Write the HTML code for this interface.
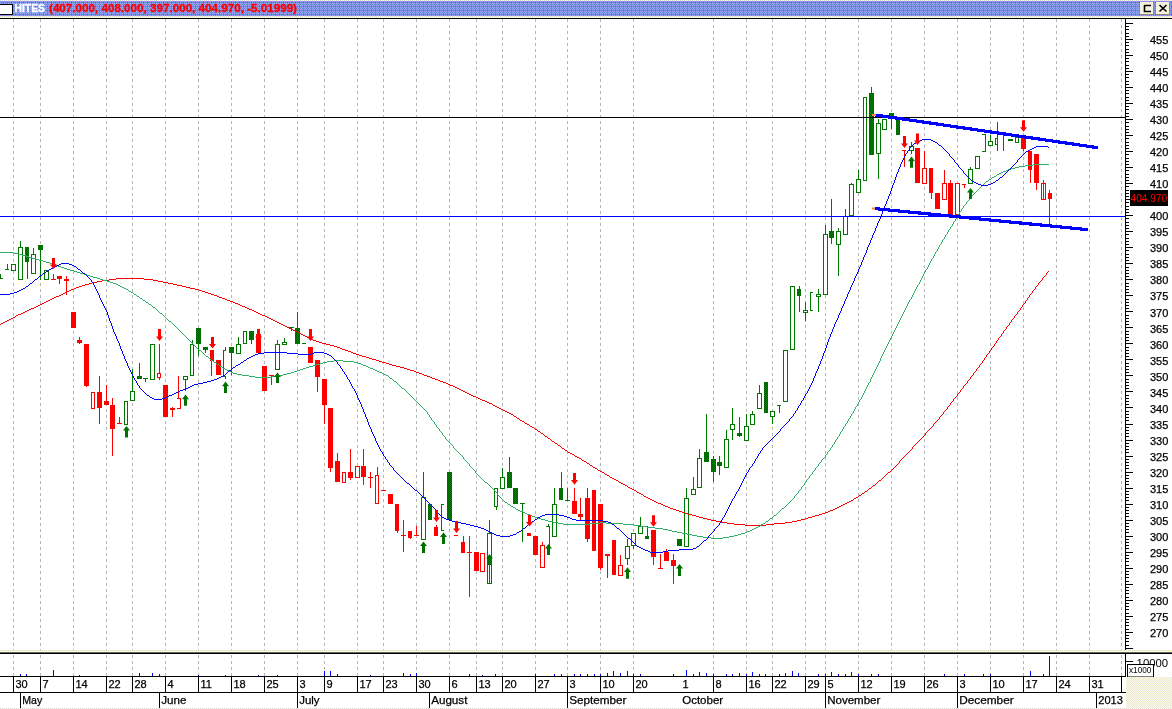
<!DOCTYPE html>
<html><head><meta charset="utf-8"><title>HITES</title>
<style>html,body{margin:0;padding:0;background:#fff;overflow:hidden}svg{display:block}</style>
</head><body>
<svg width="1172" height="709" viewBox="0 0 1172 709" font-family="'Liberation Sans', sans-serif">
<defs>
<pattern id="tb" width="4" height="4" patternUnits="userSpaceOnUse"><rect width="4" height="4" fill="#6692d4"/><rect x="0" y="1" width="1" height="1" fill="#a4a0ff"/><rect x="1" y="0" width="1" height="1" fill="#a4a0ff"/><rect x="2" y="3" width="1" height="1" fill="#a4a0ff"/><rect x="2" y="1" width="1" height="1" fill="#a4a0ff"/><rect x="0" y="3" width="1" height="1" fill="#a4a0ff"/><rect x="3" y="2" width="1" height="1" fill="#6858d0"/></pattern>
<pattern id="cr" width="2" height="2" patternUnits="userSpaceOnUse"><rect width="2" height="2" fill="#ffffc8"/><rect width="1" height="1" fill="#d8d8d0"/></pattern>
<pattern id="sb" width="2" height="2" patternUnits="userSpaceOnUse"><rect width="2" height="2" fill="#fffde0"/><rect width="1" height="1" fill="#e6e6de"/><rect x="1" y="1" width="1" height="1" fill="#e6e6de"/></pattern>
<pattern id="gd" width="2" height="2" patternUnits="userSpaceOnUse"><rect width="2" height="2" fill="#008400"/><rect width="1" height="1" fill="#005c00"/><rect x="1" y="1" width="1" height="1" fill="#005c00"/></pattern>
</defs>
<rect width="1172" height="709" fill="#fff"/>
<g stroke="#b6b6b6" stroke-width="1" stroke-dasharray="3 3" shape-rendering="crispEdges">
<line x1="13.5" y1="19" x2="13.5" y2="650"/>
<line x1="13.5" y1="655" x2="13.5" y2="676"/>
<line x1="40.5" y1="19" x2="40.5" y2="650"/>
<line x1="40.5" y1="655" x2="40.5" y2="676"/>
<line x1="73.5" y1="19" x2="73.5" y2="650"/>
<line x1="73.5" y1="655" x2="73.5" y2="676"/>
<line x1="106.5" y1="19" x2="106.5" y2="650"/>
<line x1="106.5" y1="655" x2="106.5" y2="676"/>
<line x1="132.5" y1="19" x2="132.5" y2="650"/>
<line x1="132.5" y1="655" x2="132.5" y2="676"/>
<line x1="165.5" y1="19" x2="165.5" y2="650"/>
<line x1="165.5" y1="655" x2="165.5" y2="676"/>
<line x1="198.5" y1="19" x2="198.5" y2="650"/>
<line x1="198.5" y1="655" x2="198.5" y2="676"/>
<line x1="231.5" y1="19" x2="231.5" y2="650"/>
<line x1="231.5" y1="655" x2="231.5" y2="676"/>
<line x1="264.5" y1="19" x2="264.5" y2="650"/>
<line x1="264.5" y1="655" x2="264.5" y2="676"/>
<line x1="297.5" y1="19" x2="297.5" y2="650"/>
<line x1="297.5" y1="655" x2="297.5" y2="676"/>
<line x1="324.5" y1="19" x2="324.5" y2="650"/>
<line x1="324.5" y1="655" x2="324.5" y2="676"/>
<line x1="357.5" y1="19" x2="357.5" y2="650"/>
<line x1="357.5" y1="655" x2="357.5" y2="676"/>
<line x1="383.5" y1="19" x2="383.5" y2="650"/>
<line x1="383.5" y1="655" x2="383.5" y2="676"/>
<line x1="416.5" y1="19" x2="416.5" y2="650"/>
<line x1="416.5" y1="655" x2="416.5" y2="676"/>
<line x1="449.5" y1="19" x2="449.5" y2="650"/>
<line x1="449.5" y1="655" x2="449.5" y2="676"/>
<line x1="476.5" y1="19" x2="476.5" y2="650"/>
<line x1="476.5" y1="655" x2="476.5" y2="676"/>
<line x1="502.5" y1="19" x2="502.5" y2="650"/>
<line x1="502.5" y1="655" x2="502.5" y2="676"/>
<line x1="535.5" y1="19" x2="535.5" y2="650"/>
<line x1="535.5" y1="655" x2="535.5" y2="676"/>
<line x1="567.5" y1="19" x2="567.5" y2="650"/>
<line x1="567.5" y1="655" x2="567.5" y2="676"/>
<line x1="600.5" y1="19" x2="600.5" y2="650"/>
<line x1="600.5" y1="655" x2="600.5" y2="676"/>
<line x1="633.5" y1="19" x2="633.5" y2="650"/>
<line x1="633.5" y1="655" x2="633.5" y2="676"/>
<line x1="713.5" y1="19" x2="713.5" y2="650"/>
<line x1="713.5" y1="655" x2="713.5" y2="676"/>
<line x1="746.5" y1="19" x2="746.5" y2="650"/>
<line x1="746.5" y1="655" x2="746.5" y2="676"/>
<line x1="772.5" y1="19" x2="772.5" y2="650"/>
<line x1="772.5" y1="655" x2="772.5" y2="676"/>
<line x1="805.5" y1="19" x2="805.5" y2="650"/>
<line x1="805.5" y1="655" x2="805.5" y2="676"/>
<line x1="825.5" y1="19" x2="825.5" y2="650"/>
<line x1="825.5" y1="655" x2="825.5" y2="676"/>
<line x1="858.5" y1="19" x2="858.5" y2="650"/>
<line x1="858.5" y1="655" x2="858.5" y2="676"/>
<line x1="891.5" y1="19" x2="891.5" y2="650"/>
<line x1="891.5" y1="655" x2="891.5" y2="676"/>
<line x1="924.5" y1="19" x2="924.5" y2="650"/>
<line x1="924.5" y1="655" x2="924.5" y2="676"/>
<line x1="957.5" y1="19" x2="957.5" y2="650"/>
<line x1="957.5" y1="655" x2="957.5" y2="676"/>
<line x1="990.5" y1="19" x2="990.5" y2="650"/>
<line x1="990.5" y1="655" x2="990.5" y2="676"/>
<line x1="1023.5" y1="19" x2="1023.5" y2="650"/>
<line x1="1023.5" y1="655" x2="1023.5" y2="676"/>
<line x1="1056.5" y1="19" x2="1056.5" y2="650"/>
<line x1="1056.5" y1="655" x2="1056.5" y2="676"/>
<line x1="1089.5" y1="19" x2="1089.5" y2="650"/>
<line x1="1089.5" y1="655" x2="1089.5" y2="676"/>
<line x1="1121.5" y1="19" x2="1121.5" y2="650"/>
<line x1="1121.5" y1="655" x2="1121.5" y2="676"/>
</g>
<g fill="#0000ff" shape-rendering="crispEdges">
<rect x="20" y="674" width="1" height="2"/>
<rect x="26" y="674" width="1" height="2"/>
<rect x="53" y="670" width="1" height="6"/>
<rect x="79" y="675" width="1" height="1"/>
<rect x="139" y="673" width="1" height="3"/>
<rect x="152" y="673" width="1" height="3"/>
<rect x="159" y="674" width="1" height="2"/>
<rect x="198" y="675" width="1" height="1"/>
<rect x="225" y="675" width="1" height="1"/>
<rect x="258" y="675" width="1" height="1"/>
<rect x="277" y="675" width="1" height="1"/>
<rect x="324" y="671" width="1" height="5"/>
<rect x="330" y="671" width="1" height="5"/>
<rect x="337" y="674" width="1" height="2"/>
<rect x="370" y="675" width="1" height="1"/>
<rect x="403" y="673" width="1" height="3"/>
<rect x="410" y="674" width="1" height="2"/>
<rect x="416" y="673" width="1" height="3"/>
<rect x="469" y="674" width="1" height="2"/>
<rect x="482" y="675" width="1" height="1"/>
<rect x="495" y="674" width="1" height="2"/>
<rect x="535" y="674" width="1" height="2"/>
<rect x="554" y="674" width="1" height="2"/>
<rect x="561" y="674" width="1" height="2"/>
<rect x="574" y="674" width="1" height="2"/>
<rect x="580" y="674" width="1" height="2"/>
<rect x="587" y="674" width="1" height="2"/>
<rect x="594" y="674" width="1" height="2"/>
<rect x="600" y="674" width="1" height="2"/>
<rect x="607" y="673" width="1" height="3"/>
<rect x="613" y="671" width="1" height="5"/>
<rect x="620" y="673" width="1" height="3"/>
<rect x="627" y="671" width="1" height="5"/>
<rect x="633" y="674" width="1" height="2"/>
<rect x="640" y="674" width="1" height="2"/>
<rect x="673" y="674" width="1" height="2"/>
<rect x="686" y="670" width="1" height="6"/>
<rect x="693" y="674" width="1" height="2"/>
<rect x="699" y="672" width="1" height="4"/>
<rect x="706" y="673" width="1" height="3"/>
<rect x="713" y="674" width="1" height="2"/>
<rect x="726" y="674" width="1" height="2"/>
<rect x="732" y="674" width="1" height="2"/>
<rect x="739" y="673" width="1" height="3"/>
<rect x="746" y="674" width="1" height="2"/>
<rect x="752" y="672" width="1" height="4"/>
<rect x="759" y="674" width="1" height="2"/>
<rect x="765" y="674" width="1" height="2"/>
<rect x="779" y="674" width="1" height="2"/>
<rect x="785" y="673" width="1" height="3"/>
<rect x="792" y="671" width="1" height="5"/>
<rect x="798" y="673" width="1" height="3"/>
<rect x="818" y="674" width="1" height="2"/>
<rect x="825" y="674" width="1" height="2"/>
<rect x="831" y="672" width="1" height="4"/>
<rect x="838" y="674" width="1" height="2"/>
<rect x="845" y="674" width="1" height="2"/>
<rect x="851" y="672" width="1" height="4"/>
<rect x="858" y="674" width="1" height="2"/>
<rect x="871" y="674" width="1" height="2"/>
<rect x="878" y="674" width="1" height="2"/>
<rect x="944" y="674" width="1" height="2"/>
<rect x="964" y="674" width="1" height="2"/>
<rect x="983" y="674" width="1" height="2"/>
<rect x="990" y="674" width="1" height="2"/>
<rect x="1030" y="671" width="1" height="5"/>
<rect x="1043" y="674" width="1" height="2"/>
<rect x="1049" y="656" width="1" height="20"/>
</g>
<g shape-rendering="crispEdges">
<rect x="7" y="264.0" width="1" height="5.6" fill="#007800"/>
<rect x="5" y="269.1" width="4" height="1" fill="#007800"/>
<rect x="11.5" y="264.5" width="4" height="5.6" fill="#fff" stroke="#007800" stroke-width="1"/>
<rect x="20" y="241.0" width="1" height="6.0" fill="#007800"/>
<rect x="18.5" y="247.5" width="4" height="31.5" fill="#fff" stroke="#007800" stroke-width="1"/>
<rect x="27" y="262.4" width="1" height="16.2" fill="#007800"/>
<rect x="25" y="247.0" width="4" height="15.4" fill="url(#gd)"/>
<rect x="33" y="248.4" width="1" height="5.1" fill="#007800"/>
<rect x="31.5" y="254.0" width="4" height="19.0" fill="#fff" stroke="#007800" stroke-width="1"/>
<rect x="40" y="249.6" width="1" height="29.9" fill="#007800"/>
<rect x="38" y="244.5" width="5" height="5.1" fill="url(#gd)"/>
<rect x="44.5" y="270.9" width="4" height="8.1" fill="#fff" stroke="#007800" stroke-width="1"/>
<rect x="53" y="273.5" width="1" height="6.0" fill="#ff0000"/>
<rect x="51" y="279.0" width="5" height="1" fill="#ff0000"/>
<rect x="59" y="278.6" width="1" height="5.2" fill="#ff0000"/>
<rect x="57" y="276.0" width="5" height="2.6" fill="#ff0000"/>
<rect x="66" y="276.0" width="1" height="2.6" fill="#ff0000"/>
<rect x="66" y="280.7" width="1" height="14.3" fill="#ff0000"/>
<rect x="64" y="278.6" width="5" height="2.1" fill="#ff0000"/>
<rect x="71" y="312.0" width="5" height="15.8" fill="#ff0000"/>
<rect x="79" y="337.0" width="1" height="3.0" fill="#ff0000"/>
<rect x="79" y="343.0" width="1" height="0.5" fill="#ff0000"/>
<rect x="77" y="340.0" width="5" height="3.0" fill="#ff0000"/>
<rect x="86" y="386.0" width="1" height="1.0" fill="#ff0000"/>
<rect x="84" y="344.3" width="5" height="41.7" fill="#ff0000"/>
<rect x="91.5" y="392.5" width="3" height="15.6" fill="#fff" stroke="#ff0000" stroke-width="1"/>
<rect x="99" y="376.0" width="1" height="16.0" fill="#ff0000"/>
<rect x="99" y="407.7" width="1" height="15.9" fill="#ff0000"/>
<rect x="97" y="392.0" width="5" height="15.7" fill="#ff0000"/>
<rect x="106" y="385.0" width="1" height="16.0" fill="#ff0000"/>
<rect x="104" y="401.0" width="5" height="4.0" fill="#ff0000"/>
<rect x="112" y="398.0" width="1" height="7.0" fill="#ff0000"/>
<rect x="112" y="428.7" width="1" height="27.3" fill="#ff0000"/>
<rect x="110" y="405.0" width="5" height="23.7" fill="#ff0000"/>
<rect x="119" y="417.0" width="1" height="6.6" fill="#ff0000"/>
<rect x="117" y="423.1" width="5" height="1" fill="#ff0000"/>
<rect x="124.5" y="401.5" width="3" height="22.5" fill="#fff" stroke="#007800" stroke-width="1"/>
<rect x="132" y="369.0" width="1" height="22.0" fill="#007800"/>
<rect x="130.5" y="391.5" width="4" height="9.4" fill="#fff" stroke="#007800" stroke-width="1"/>
<rect x="139" y="363.0" width="1" height="13.0" fill="#007800"/>
<rect x="137" y="376.0" width="5" height="2.6" fill="url(#gd)"/>
<rect x="143" y="378.4" width="5" height="1" fill="#007800"/>
<rect x="145" y="378.4" width="1" height="3.4" fill="#007800"/>
<rect x="150.5" y="344.8" width="4" height="34.3" fill="#fff" stroke="#007800" stroke-width="1"/>
<rect x="159" y="344.0" width="1" height="29.3" fill="#ff0000"/>
<rect x="159" y="378.0" width="1" height="1.5" fill="#ff0000"/>
<rect x="157.5" y="373.8" width="3" height="3.7" fill="#fff" stroke="#ff0000" stroke-width="1"/>
<rect x="163" y="385.0" width="5" height="31.8" fill="#ff0000"/>
<rect x="172" y="407.0" width="1" height="0.5" fill="#ff0000"/>
<rect x="172" y="410.0" width="1" height="6.8" fill="#ff0000"/>
<rect x="170" y="407.5" width="5" height="2.5" fill="#ff0000"/>
<rect x="178" y="376.0" width="1" height="22.4" fill="#ff0000"/>
<rect x="180" y="398.4" width="1" height="10.2" fill="#ff0000"/>
<rect x="177" y="398.4" width="4" height="1" fill="#ff0000"/>
<rect x="177" y="407.6" width="4" height="1" fill="#ff0000"/>
<rect x="185" y="379.6" width="1" height="11.4" fill="#007800"/>
<rect x="183.5" y="376.5" width="4" height="2.6" fill="#fff" stroke="#007800" stroke-width="1"/>
<rect x="192" y="340.0" width="1" height="4.3" fill="#007800"/>
<rect x="190.5" y="344.8" width="3" height="30.7" fill="#fff" stroke="#007800" stroke-width="1"/>
<rect x="198" y="343.5" width="1" height="12.0" fill="#007800"/>
<rect x="196" y="328.0" width="5" height="15.5" fill="url(#gd)"/>
<rect x="205" y="350.3" width="1" height="2.3" fill="#007800"/>
<rect x="203" y="347.4" width="5" height="2.9" fill="url(#gd)"/>
<rect x="211" y="360.6" width="1" height="15.4" fill="#ff0000"/>
<rect x="210" y="349.8" width="4" height="10.8" fill="#ff0000"/>
<rect x="216" y="360.0" width="5" height="15.0" fill="#ff0000"/>
<rect x="225" y="347.4" width="1" height="2.9" fill="#007800"/>
<rect x="225" y="376.5" width="1" height="2.3" fill="#007800"/>
<rect x="223" y="350.3" width="1" height="26.2" fill="#007800"/>
<rect x="223" y="350.3" width="3" height="1" fill="#007800"/>
<rect x="223" y="375.5" width="3" height="1" fill="#007800"/>
<rect x="231" y="353.0" width="1" height="22.0" fill="#007800"/>
<rect x="229" y="347.4" width="5" height="5.6" fill="url(#gd)"/>
<rect x="238" y="337.2" width="1" height="7.2" fill="#007800"/>
<rect x="236.5" y="344.9" width="4" height="8.2" fill="#fff" stroke="#007800" stroke-width="1"/>
<rect x="243.5" y="331.7" width="3" height="11.3" fill="#fff" stroke="#007800" stroke-width="1"/>
<rect x="251" y="339.6" width="1" height="3.9" fill="#007800"/>
<rect x="249" y="331.2" width="5" height="8.4" fill="url(#gd)"/>
<rect x="256" y="334.0" width="5" height="19.2" fill="#ff0000"/>
<rect x="262" y="366.2" width="5" height="24.6" fill="#ff0000"/>
<rect x="269" y="375.0" width="5" height="1" fill="#ff0000"/>
<rect x="271" y="375.0" width="1" height="9.8" fill="#ff0000"/>
<rect x="277" y="340.0" width="1" height="4.0" fill="#007800"/>
<rect x="275.5" y="344.5" width="4" height="24.6" fill="#fff" stroke="#007800" stroke-width="1"/>
<rect x="284" y="338.4" width="1" height="3.4" fill="#007800"/>
<rect x="282.5" y="342.3" width="4" height="1.9" fill="#fff" stroke="#007800" stroke-width="1"/>
<rect x="289" y="327.3" width="5" height="1" fill="#007800"/>
<rect x="291" y="327.3" width="1" height="3.4" fill="#007800"/>
<rect x="297" y="312.3" width="1" height="15.9" fill="#007800"/>
<rect x="295" y="328.2" width="5" height="15.3" fill="url(#gd)"/>
<rect x="302" y="343.0" width="4" height="1" fill="#007800"/>
<rect x="308" y="347.3" width="5" height="15.5" fill="#ff0000"/>
<rect x="317" y="376.8" width="1" height="15.0" fill="#ff0000"/>
<rect x="315" y="360.0" width="5" height="16.8" fill="#ff0000"/>
<rect x="324" y="405.0" width="1" height="19.0" fill="#ff0000"/>
<rect x="322" y="378.8" width="5" height="26.2" fill="#ff0000"/>
<rect x="330" y="467.6" width="1" height="4.4" fill="#ff0000"/>
<rect x="328" y="408.0" width="5" height="59.6" fill="#ff0000"/>
<rect x="337" y="453.0" width="1" height="7.8" fill="#ff0000"/>
<rect x="335" y="460.8" width="5" height="21.0" fill="#ff0000"/>
<rect x="342.5" y="472.7" width="3" height="9.5" fill="#fff" stroke="#ff0000" stroke-width="1"/>
<rect x="350" y="448.9" width="1" height="23.3" fill="#ff0000"/>
<rect x="350" y="477.9" width="1" height="1.6" fill="#ff0000"/>
<rect x="348" y="472.2" width="5" height="5.7" fill="#ff0000"/>
<rect x="355.5" y="466.8" width="4" height="11.1" fill="#fff" stroke="#ff0000" stroke-width="1"/>
<rect x="363" y="448.9" width="1" height="17.4" fill="#ff0000"/>
<rect x="363" y="476.7" width="1" height="8.0" fill="#ff0000"/>
<rect x="361" y="466.3" width="5" height="10.4" fill="#ff0000"/>
<rect x="370" y="472.2" width="1" height="15.6" fill="#ff0000"/>
<rect x="368" y="476.9" width="5" height="1" fill="#ff0000"/>
<rect x="377" y="467.1" width="1" height="8.2" fill="#ff0000"/>
<rect x="375.5" y="475.8" width="3" height="28.0" fill="#fff" stroke="#ff0000" stroke-width="1"/>
<rect x="381" y="489.9" width="5" height="1" fill="#ff0000"/>
<rect x="388" y="494.0" width="5" height="10.0" fill="#ff0000"/>
<rect x="397" y="530.9" width="1" height="2.1" fill="#ff0000"/>
<rect x="395" y="504.0" width="4" height="26.9" fill="#ff0000"/>
<rect x="403" y="520.0" width="1" height="32.0" fill="#ff0000"/>
<rect x="401" y="535.0" width="5" height="1" fill="#ff0000"/>
<rect x="410" y="538.0" width="1" height="1.0" fill="#ff0000"/>
<rect x="408" y="530.9" width="4" height="7.1" fill="#ff0000"/>
<rect x="416" y="526.0" width="1" height="9.5" fill="#ff0000"/>
<rect x="414" y="535.0" width="5" height="1" fill="#ff0000"/>
<rect x="423" y="472.0" width="1" height="25.3" fill="#007800"/>
<rect x="421.5" y="497.8" width="4" height="41.3" fill="#fff" stroke="#007800" stroke-width="1"/>
<rect x="428" y="504.0" width="4" height="15.8" fill="url(#gd)"/>
<rect x="436" y="525.0" width="1" height="2.0" fill="#ff0000"/>
<rect x="434" y="527.0" width="4" height="9.0" fill="#ff0000"/>
<rect x="441" y="504.0" width="1" height="26.6" fill="#007800"/>
<rect x="441" y="504.0" width="3" height="1" fill="#007800"/>
<rect x="441" y="529.6" width="3" height="1" fill="#007800"/>
<rect x="447" y="472.0" width="5" height="47.8" fill="url(#gd)"/>
<rect x="454" y="534.9" width="4" height="1" fill="#ff0000"/>
<rect x="463" y="536.3" width="1" height="6.0" fill="#ff0000"/>
<rect x="461" y="542.3" width="4" height="10.7" fill="#ff0000"/>
<rect x="469" y="536.0" width="1" height="61.0" fill="#ff0000"/>
<rect x="467" y="551.5" width="5" height="1" fill="#ff0000"/>
<rect x="474" y="552.0" width="5" height="19.3" fill="#ff0000"/>
<rect x="480.5" y="553.5" width="4" height="17.6" fill="#fff" stroke="#ff0000" stroke-width="1"/>
<rect x="489" y="520.0" width="1" height="13.0" fill="#007800"/>
<rect x="487.5" y="533.5" width="4" height="50.4" fill="#fff" stroke="#007800" stroke-width="1"/>
<rect x="496" y="507.4" width="1" height="2.6" fill="#007800"/>
<rect x="494.5" y="488.7" width="3" height="18.2" fill="#fff" stroke="#007800" stroke-width="1"/>
<rect x="502" y="468.3" width="1" height="8.9" fill="#007800"/>
<rect x="500.5" y="477.7" width="4" height="10.4" fill="#fff" stroke="#007800" stroke-width="1"/>
<rect x="509" y="457.0" width="1" height="15.0" fill="#007800"/>
<rect x="507" y="472.0" width="5" height="15.7" fill="url(#gd)"/>
<rect x="513" y="488.0" width="5" height="15.6" fill="url(#gd)"/>
<rect x="520" y="503.4" width="5" height="1" fill="#007800"/>
<rect x="522" y="503.4" width="1" height="38.4" fill="#007800"/>
<rect x="527" y="533.0" width="4" height="3.0" fill="#ff0000"/>
<rect x="533" y="536.0" width="5" height="18.7" fill="#ff0000"/>
<rect x="542" y="542.0" width="1" height="3.2" fill="#ff0000"/>
<rect x="540.5" y="545.7" width="4" height="22.2" fill="#fff" stroke="#ff0000" stroke-width="1"/>
<rect x="548" y="523.5" width="1" height="2.5" fill="#007800"/>
<rect x="549" y="526.0" width="1" height="22.0" fill="#007800"/>
<rect x="546" y="526.0" width="4" height="1" fill="#007800"/>
<rect x="546" y="547.0" width="4" height="1" fill="#007800"/>
<rect x="554" y="488.2" width="1" height="16.1" fill="#007800"/>
<rect x="552.5" y="504.8" width="4" height="31.2" fill="#fff" stroke="#007800" stroke-width="1"/>
<rect x="561" y="472.0" width="1" height="16.2" fill="#007800"/>
<rect x="559" y="488.2" width="4" height="11.8" fill="url(#gd)"/>
<rect x="567" y="488.2" width="1" height="12.3" fill="#007800"/>
<rect x="565" y="500.0" width="5" height="1" fill="#007800"/>
<rect x="574" y="488.0" width="1" height="13.0" fill="#ff0000"/>
<rect x="572" y="501.0" width="5" height="12.7" fill="#ff0000"/>
<rect x="580" y="498.2" width="1" height="15.8" fill="#ff0000"/>
<rect x="580" y="516.8" width="1" height="2.8" fill="#ff0000"/>
<rect x="578" y="514.0" width="5" height="2.8" fill="#ff0000"/>
<rect x="587" y="488.0" width="1" height="10.2" fill="#ff0000"/>
<rect x="587" y="538.8" width="1" height="3.2" fill="#ff0000"/>
<rect x="585" y="498.2" width="5" height="40.6" fill="#ff0000"/>
<rect x="592" y="490.0" width="4" height="61.0" fill="#ff0000"/>
<rect x="600" y="567.8" width="1" height="1.7" fill="#ff0000"/>
<rect x="598" y="504.0" width="5" height="63.8" fill="#ff0000"/>
<rect x="607" y="556.2" width="1" height="21.6" fill="#ff0000"/>
<rect x="605" y="554.0" width="5" height="2.2" fill="#ff0000"/>
<rect x="612" y="539.6" width="4" height="35.4" fill="#ff0000"/>
<rect x="620" y="555.0" width="1" height="10.2" fill="#ff0000"/>
<rect x="618.5" y="565.7" width="4" height="9.3" fill="#fff" stroke="#ff0000" stroke-width="1"/>
<rect x="627" y="539.0" width="1" height="7.3" fill="#007800"/>
<rect x="627" y="559.2" width="1" height="5.5" fill="#007800"/>
<rect x="625.5" y="546.8" width="4" height="11.9" fill="#fff" stroke="#007800" stroke-width="1"/>
<rect x="633" y="546.3" width="1" height="2.5" fill="#007800"/>
<rect x="631.5" y="533.5" width="4" height="12.3" fill="#fff" stroke="#007800" stroke-width="1"/>
<rect x="640" y="517.0" width="1" height="9.3" fill="#007800"/>
<rect x="638.5" y="526.8" width="4" height="6.2" fill="#fff" stroke="#007800" stroke-width="1"/>
<rect x="647" y="526.3" width="1" height="9.9" fill="#007800"/>
<rect x="645" y="536.2" width="4" height="2.4" fill="url(#gd)"/>
<rect x="653" y="556.7" width="1" height="8.0" fill="#ff0000"/>
<rect x="651" y="530.0" width="5" height="26.7" fill="#ff0000"/>
<rect x="660" y="554.0" width="1" height="14.0" fill="#ff0000"/>
<rect x="658" y="567.5" width="5" height="1" fill="#ff0000"/>
<rect x="666" y="549.0" width="1" height="2.6" fill="#ff0000"/>
<rect x="664" y="551.6" width="5" height="9.2" fill="#ff0000"/>
<rect x="673" y="554.0" width="1" height="6.0" fill="#ff0000"/>
<rect x="673" y="565.6" width="1" height="17.9" fill="#ff0000"/>
<rect x="671" y="560.0" width="5" height="5.6" fill="#ff0000"/>
<rect x="677" y="539.0" width="5" height="7.0" fill="url(#gd)"/>
<rect x="686" y="488.0" width="1" height="10.2" fill="#007800"/>
<rect x="684.5" y="498.7" width="4" height="47.3" fill="#fff" stroke="#007800" stroke-width="1"/>
<rect x="693" y="477.2" width="1" height="11.8" fill="#007800"/>
<rect x="691.5" y="489.5" width="4" height="4.7" fill="#fff" stroke="#007800" stroke-width="1"/>
<rect x="699" y="449.0" width="1" height="9.2" fill="#007800"/>
<rect x="697.5" y="458.7" width="4" height="29.1" fill="#fff" stroke="#007800" stroke-width="1"/>
<rect x="706" y="414.0" width="1" height="38.3" fill="#007800"/>
<rect x="704" y="452.3" width="5" height="9.3" fill="url(#gd)"/>
<rect x="713" y="456.0" width="1" height="2.7" fill="#007800"/>
<rect x="713" y="472.4" width="1" height="9.6" fill="#007800"/>
<rect x="711" y="458.7" width="5" height="13.7" fill="url(#gd)"/>
<rect x="719" y="456.2" width="1" height="5.8" fill="#007800"/>
<rect x="719" y="465.6" width="1" height="9.0" fill="#007800"/>
<rect x="717" y="462.0" width="5" height="3.6" fill="url(#gd)"/>
<rect x="726" y="430.0" width="1" height="9.0" fill="#007800"/>
<rect x="724.5" y="439.5" width="4" height="27.6" fill="#fff" stroke="#007800" stroke-width="1"/>
<rect x="732" y="408.0" width="1" height="16.3" fill="#007800"/>
<rect x="732" y="430.4" width="1" height="9.2" fill="#007800"/>
<rect x="730.5" y="424.8" width="4" height="5.1" fill="#fff" stroke="#007800" stroke-width="1"/>
<rect x="739" y="417.0" width="1" height="16.0" fill="#007800"/>
<rect x="739" y="435.7" width="1" height="1.3" fill="#007800"/>
<rect x="737" y="433.0" width="5" height="2.7" fill="url(#gd)"/>
<rect x="746" y="414.0" width="1" height="12.0" fill="#007800"/>
<rect x="744.5" y="426.5" width="4" height="13.5" fill="#fff" stroke="#007800" stroke-width="1"/>
<rect x="752" y="411.0" width="1" height="3.4" fill="#007800"/>
<rect x="750.5" y="414.9" width="4" height="9.2" fill="#fff" stroke="#007800" stroke-width="1"/>
<rect x="759" y="385.0" width="1" height="8.4" fill="#007800"/>
<rect x="757.5" y="393.9" width="4" height="14.3" fill="#fff" stroke="#007800" stroke-width="1"/>
<rect x="764" y="382.0" width="4" height="31.0" fill="url(#gd)"/>
<rect x="772" y="417.4" width="1" height="6.4" fill="#007800"/>
<rect x="770.5" y="411.8" width="4" height="5.1" fill="#fff" stroke="#007800" stroke-width="1"/>
<rect x="777" y="405.3" width="4" height="1" fill="#007800"/>
<rect x="779" y="405.3" width="1" height="7.4" fill="#007800"/>
<rect x="783.5" y="350.5" width="4" height="50.6" fill="#fff" stroke="#007800" stroke-width="1"/>
<rect x="790.5" y="286.5" width="4" height="63.4" fill="#fff" stroke="#007800" stroke-width="1"/>
<rect x="799" y="286.0" width="1" height="3.4" fill="#007800"/>
<rect x="799" y="295.8" width="1" height="15.9" fill="#007800"/>
<rect x="797" y="289.4" width="4" height="6.4" fill="url(#gd)"/>
<rect x="805" y="301.8" width="1" height="7.7" fill="#007800"/>
<rect x="805" y="312.6" width="1" height="8.4" fill="#007800"/>
<rect x="803.5" y="310.0" width="4" height="2.1" fill="#fff" stroke="#007800" stroke-width="1"/>
<rect x="810" y="292.0" width="1" height="18.7" fill="#007800"/>
<rect x="810" y="292.0" width="3" height="1" fill="#007800"/>
<rect x="810" y="309.7" width="3" height="1" fill="#007800"/>
<rect x="818" y="289.0" width="1" height="5.0" fill="#007800"/>
<rect x="818" y="296.7" width="1" height="15.0" fill="#007800"/>
<rect x="816.5" y="294.5" width="4" height="1.7" fill="#fff" stroke="#007800" stroke-width="1"/>
<rect x="825" y="224.5" width="1" height="9.7" fill="#007800"/>
<rect x="823.5" y="234.7" width="4" height="59.4" fill="#fff" stroke="#007800" stroke-width="1"/>
<rect x="831" y="199.2" width="1" height="32.0" fill="#007800"/>
<rect x="831" y="237.6" width="1" height="6.0" fill="#007800"/>
<rect x="829" y="231.2" width="5" height="6.4" fill="url(#gd)"/>
<rect x="838" y="228.3" width="1" height="3.0" fill="#007800"/>
<rect x="838" y="244.5" width="1" height="31.2" fill="#007800"/>
<rect x="836.5" y="231.8" width="4" height="12.2" fill="#fff" stroke="#007800" stroke-width="1"/>
<rect x="845" y="209.0" width="1" height="6.5" fill="#007800"/>
<rect x="843.5" y="216.0" width="4" height="18.9" fill="#fff" stroke="#007800" stroke-width="1"/>
<rect x="851" y="183.0" width="1" height="0.9" fill="#007800"/>
<rect x="849.5" y="184.4" width="4" height="31.1" fill="#fff" stroke="#007800" stroke-width="1"/>
<rect x="858" y="170.2" width="1" height="9.1" fill="#007800"/>
<rect x="856.5" y="179.8" width="4" height="13.1" fill="#fff" stroke="#007800" stroke-width="1"/>
<rect x="863.5" y="97.7" width="3" height="82.3" fill="#fff" stroke="#007800" stroke-width="1"/>
<rect x="871" y="87.3" width="1" height="6.0" fill="#007800"/>
<rect x="869" y="93.3" width="5" height="61.9" fill="url(#gd)"/>
<rect x="878" y="119.4" width="1" height="3.4" fill="#007800"/>
<rect x="878" y="154.4" width="1" height="25.0" fill="#007800"/>
<rect x="876.5" y="123.3" width="4" height="30.6" fill="#fff" stroke="#007800" stroke-width="1"/>
<rect x="882.5" y="119.9" width="4" height="9.2" fill="#fff" stroke="#007800" stroke-width="1"/>
<rect x="891" y="116.8" width="1" height="12.0" fill="#007800"/>
<rect x="889" y="113.4" width="5" height="3.4" fill="url(#gd)"/>
<rect x="896" y="117.2" width="4" height="17.5" fill="url(#gd)"/>
<rect x="902" y="150.0" width="4" height="1" fill="#ff0000"/>
<rect x="904" y="150.0" width="1" height="16.8" fill="#ff0000"/>
<rect x="911" y="142.4" width="1" height="3.4" fill="#007800"/>
<rect x="911" y="151.3" width="1" height="2.7" fill="#007800"/>
<rect x="909.5" y="146.3" width="4" height="4.5" fill="#fff" stroke="#007800" stroke-width="1"/>
<rect x="915" y="148.0" width="5" height="34.8" fill="#ff0000"/>
<rect x="924" y="151.3" width="1" height="16.2" fill="#ff0000"/>
<rect x="922.5" y="168.0" width="4" height="15.2" fill="#fff" stroke="#ff0000" stroke-width="1"/>
<rect x="931" y="192.7" width="1" height="6.2" fill="#ff0000"/>
<rect x="929" y="168.0" width="4" height="24.7" fill="#ff0000"/>
<rect x="935" y="193.0" width="5" height="15.6" fill="#ff0000"/>
<rect x="944" y="170.0" width="1" height="13.4" fill="#ff0000"/>
<rect x="942.5" y="183.9" width="4" height="15.2" fill="#fff" stroke="#ff0000" stroke-width="1"/>
<rect x="950" y="180.0" width="1" height="3.0" fill="#ff0000"/>
<rect x="948" y="183.0" width="5" height="31.6" fill="#ff0000"/>
<rect x="955.5" y="183.9" width="4" height="30.2" fill="#fff" stroke="#ff0000" stroke-width="1"/>
<rect x="962" y="183.7" width="4" height="1" fill="#ff0000"/>
<rect x="964" y="183.7" width="1" height="3.9" fill="#ff0000"/>
<rect x="970" y="167.2" width="1" height="2.2" fill="#007800"/>
<rect x="968.5" y="169.9" width="4" height="13.3" fill="#fff" stroke="#007800" stroke-width="1"/>
<rect x="975.5" y="156.9" width="4" height="11.5" fill="#fff" stroke="#007800" stroke-width="1"/>
<rect x="985" y="133.5" width="1" height="18.0" fill="#007800"/>
<rect x="982" y="133.5" width="4" height="1" fill="#007800"/>
<rect x="982" y="150.5" width="4" height="1" fill="#007800"/>
<rect x="990" y="135.2" width="1" height="5.5" fill="#007800"/>
<rect x="988.5" y="141.2" width="4" height="3.8" fill="#fff" stroke="#007800" stroke-width="1"/>
<rect x="997" y="122.3" width="1" height="28.5" fill="#007800"/>
<rect x="995" y="137.5" width="1" height="7.1" fill="#007800"/>
<rect x="995" y="137.5" width="2" height="1" fill="#007800"/>
<rect x="995" y="143.6" width="2" height="1" fill="#007800"/>
<rect x="1003" y="133.3" width="1" height="17.5" fill="#007800"/>
<rect x="1008" y="138.7" width="5" height="2.0" fill="url(#gd)"/>
<rect x="1015.5" y="137.8" width="3" height="4.2" fill="#fff" stroke="#007800" stroke-width="1"/>
<rect x="1023" y="148.8" width="1" height="2.2" fill="#ff0000"/>
<rect x="1021" y="135.5" width="5" height="13.3" fill="#ff0000"/>
<rect x="1030" y="169.7" width="1" height="12.8" fill="#ff0000"/>
<rect x="1028" y="151.3" width="4" height="18.4" fill="#ff0000"/>
<rect x="1036" y="182.9" width="1" height="6.8" fill="#ff0000"/>
<rect x="1034" y="154.0" width="5" height="28.9" fill="#ff0000"/>
<rect x="1043" y="180.0" width="1" height="3.4" fill="#ff0000"/>
<rect x="1041.5" y="183.9" width="4" height="15.2" fill="#fff" stroke="#ff0000" stroke-width="1"/>
<rect x="1049" y="189.9" width="1" height="3.2" fill="#ff0000"/>
<rect x="1049" y="198.7" width="1" height="26.5" fill="#ff0000"/>
<rect x="1048" y="193.1" width="4" height="5.6" fill="#ff0000"/>
<rect x="489" y="565" width="1" height="19" fill="#007800"/>
<rect x="1043" y="184" width="1" height="15" fill="#ff0000"/>
<rect x="0" y="277.5" width="3" height="1" fill="#007800"/><rect x="0" y="274" width="1" height="4" fill="#007800"/>
</g>
<g shape-rendering="crispEdges">
<rect x="0" y="117" width="1125" height="1" fill="#000"/>
<rect x="0" y="216" width="1125" height="1" fill="#0000ff"/>
</g>
<path d="M0 324h1v1h-1zM1 323h2v1h-2zM3 322h2v1h-2zM5 321h2v1h-2zM7 320h2v1h-2zM9 319h2v1h-2zM11 318h2v1h-2zM13 317h2v1h-2zM15 316h1v1h-1zM16 315h2v1h-2zM18 314h3v1h-3zM21 313h2v1h-2zM23 312h2v1h-2zM25 311h2v1h-2zM27 310h2v1h-2zM29 309h2v1h-2zM31 308h3v1h-3zM34 307h2v1h-2zM36 306h2v1h-2zM38 305h2v1h-2zM40 304h2v1h-2zM42 303h2v1h-2zM44 302h2v1h-2zM46 301h2v1h-2zM48 300h2v1h-2zM50 299h2v1h-2zM52 298h2v1h-2zM54 297h2v1h-2zM56 296h3v1h-3zM59 295h2v1h-2zM61 294h2v1h-2zM63 293h2v1h-2zM65 292h2v1h-2zM67 291h2v1h-2zM69 290h2v1h-2zM71 289h3v1h-3zM74 288h2v1h-2zM76 287h3v1h-3zM79 286h3v1h-3zM82 285h3v1h-3zM85 284h4v1h-4zM89 283h3v1h-3zM92 282h5v1h-5zM97 281h5v1h-5zM102 280h7v1h-7zM109 279h7v1h-7zM116 278h28v1h-28zM144 279h9v1h-9zM153 280h5v1h-5zM158 281h5v1h-5zM163 282h5v1h-5zM168 283h5v1h-5zM173 284h4v1h-4zM177 285h5v1h-5zM182 286h4v1h-4zM186 287h4v1h-4zM190 288h5v1h-5zM195 289h4v1h-4zM199 290h3v1h-3zM202 291h3v1h-3zM205 292h3v1h-3zM208 293h3v1h-3zM211 294h3v1h-3zM214 295h3v1h-3zM217 296h2v1h-2zM219 297h3v1h-3zM222 298h3v1h-3zM225 299h2v1h-2zM227 300h3v1h-3zM230 301h3v1h-3zM233 302h2v1h-2zM235 303h3v1h-3zM238 304h2v1h-2zM240 305h2v1h-2zM242 306h3v1h-3zM245 307h2v1h-2zM247 308h2v1h-2zM249 309h3v1h-3zM252 310h2v1h-2zM254 311h2v1h-2zM256 312h2v1h-2zM258 313h2v1h-2zM260 314h2v1h-2zM262 315h3v1h-3zM265 316h2v1h-2zM267 317h2v1h-2zM269 318h2v1h-2zM271 319h2v1h-2zM273 320h2v1h-2zM275 321h2v1h-2zM277 322h2v1h-2zM279 323h2v1h-2zM281 324h2v1h-2zM283 325h2v1h-2zM285 326h2v1h-2zM287 327h2v1h-2zM289 328h2v1h-2zM291 329h2v1h-2zM293 330h2v1h-2zM295 331h2v1h-2zM297 332h2v1h-2zM299 333h2v1h-2zM301 334h2v1h-2zM303 335h2v1h-2zM305 336h2v1h-2zM307 337h2v1h-2zM309 338h2v1h-2zM311 339h2v1h-2zM313 340h3v1h-3zM316 341h3v1h-3zM319 342h3v1h-3zM322 343h4v1h-4zM326 344h4v1h-4zM330 345h4v1h-4zM334 346h3v1h-3zM337 347h3v1h-3zM340 348h2v1h-2zM342 349h3v1h-3zM345 350h3v1h-3zM348 351h3v1h-3zM351 352h2v1h-2zM353 353h3v1h-3zM356 354h3v1h-3zM359 355h3v1h-3zM362 356h4v1h-4zM366 357h3v1h-3zM369 358h3v1h-3zM372 359h4v1h-4zM376 360h3v1h-3zM379 361h3v1h-3zM382 362h4v1h-4zM386 363h3v1h-3zM389 364h3v1h-3zM392 365h4v1h-4zM396 366h4v1h-4zM400 367h4v1h-4zM404 368h3v1h-3zM407 369h3v1h-3zM410 370h4v1h-4zM414 371h2v1h-2zM416 372h3v1h-3zM419 373h3v1h-3zM422 374h2v1h-2zM424 375h3v1h-3zM427 376h3v1h-3zM430 377h2v1h-2zM432 378h3v1h-3zM435 379h3v1h-3zM438 380h2v1h-2zM440 381h3v1h-3zM443 382h3v1h-3zM446 383h2v1h-2zM448 384h2v1h-2zM450 385h3v1h-3zM453 386h2v1h-2zM455 387h2v1h-2zM457 388h2v1h-2zM459 389h2v1h-2zM461 390h2v1h-2zM463 391h2v1h-2zM465 392h2v1h-2zM467 393h2v1h-2zM469 394h2v1h-2zM471 395h2v1h-2zM473 396h3v1h-3zM476 397h2v1h-2zM478 398h2v1h-2zM480 399h2v1h-2zM482 400h3v1h-3zM485 401h2v1h-2zM487 402h2v1h-2zM489 403h3v1h-3zM492 404h1v1h-1zM493 405h2v1h-2zM495 406h2v1h-2zM497 407h2v1h-2zM499 408h2v1h-2zM501 409h2v1h-2zM503 410h2v1h-2zM505 411h2v1h-2zM507 412h2v1h-2zM509 413h2v1h-2zM511 414h2v1h-2zM513 415h1v1h-1zM514 416h2v1h-2zM516 417h1v1h-1zM517 418h2v1h-2zM519 419h1v1h-1zM520 420h2v1h-2zM522 421h2v1h-2zM524 422h1v1h-1zM525 423h2v1h-2zM527 424h2v1h-2zM529 425h1v1h-1zM530 426h2v1h-2zM532 427h2v1h-2zM534 428h1v1h-1zM535 429h2v1h-2zM537 430h1v1h-1zM538 431h2v1h-2zM540 432h1v1h-1zM541 433h2v1h-2zM543 434h1v1h-1zM544 435h1v1h-1zM545 436h2v1h-2zM547 437h1v1h-1zM548 438h2v1h-2zM550 439h1v1h-1zM551 440h1v1h-1zM552 441h2v1h-2zM554 442h1v1h-1zM555 443h2v1h-2zM557 444h1v1h-1zM558 445h2v1h-2zM560 446h1v1h-1zM561 447h1v1h-1zM562 448h2v1h-2zM564 449h1v1h-1zM565 450h2v1h-2zM567 451h1v1h-1zM568 452h2v1h-2zM570 453h2v1h-2zM572 454h2v1h-2zM574 455h1v1h-1zM575 456h2v1h-2zM577 457h2v1h-2zM579 458h2v1h-2zM581 459h1v1h-1zM582 460h2v1h-2zM584 461h2v1h-2zM586 462h1v1h-1zM587 463h2v1h-2zM589 464h1v1h-1zM590 465h2v1h-2zM592 466h1v1h-1zM593 467h2v1h-2zM595 468h2v1h-2zM597 469h1v1h-1zM598 470h2v1h-2zM600 471h2v1h-2zM602 472h2v1h-2zM604 473h1v1h-1zM605 474h2v1h-2zM607 475h2v1h-2zM609 476h1v1h-1zM610 477h2v1h-2zM612 478h2v1h-2zM614 479h2v1h-2zM616 480h2v1h-2zM618 481h1v1h-1zM619 482h2v1h-2zM621 483h2v1h-2zM623 484h2v1h-2zM625 485h2v1h-2zM627 486h1v1h-1zM628 487h2v1h-2zM630 488h2v1h-2zM632 489h2v1h-2zM634 490h2v1h-2zM636 491h1v1h-1zM637 492h2v1h-2zM639 493h2v1h-2zM641 494h2v1h-2zM643 495h1v1h-1zM644 496h2v1h-2zM646 497h2v1h-2zM648 498h2v1h-2zM650 499h2v1h-2zM652 500h2v1h-2zM654 501h2v1h-2zM656 502h2v1h-2zM658 503h3v1h-3zM661 504h2v1h-2zM663 505h2v1h-2zM665 506h3v1h-3zM668 507h2v1h-2zM670 508h3v1h-3zM673 509h3v1h-3zM676 510h3v1h-3zM679 511h3v1h-3zM682 512h3v1h-3zM685 513h3v1h-3zM688 514h4v1h-4zM692 515h4v1h-4zM696 516h3v1h-3zM699 517h4v1h-4zM703 518h4v1h-4zM707 519h4v1h-4zM711 520h5v1h-5zM716 521h5v1h-5zM721 522h6v1h-6zM727 523h7v1h-7zM734 524h11v1h-11zM745 525h21v1h-21zM766 524h8v1h-8zM774 523h11v1h-11zM785 522h7v1h-7zM792 521h5v1h-5zM797 520h4v1h-4zM801 519h4v1h-4zM805 518h3v1h-3zM808 517h4v1h-4zM812 516h3v1h-3zM815 515h4v1h-4zM819 514h3v1h-3zM822 513h3v1h-3zM825 512h3v1h-3zM828 511h2v1h-2zM830 510h3v1h-3zM833 509h2v1h-2zM835 508h2v1h-2zM837 507h2v1h-2zM839 506h2v1h-2zM841 505h2v1h-2zM843 504h2v1h-2zM845 503h2v1h-2zM847 502h2v1h-2zM849 501h2v1h-2zM851 500h2v1h-2zM853 499h1v1h-1zM854 498h2v1h-2zM856 497h2v1h-2zM858 496h1v1h-1zM859 495h2v1h-2zM861 494h1v1h-1zM862 493h2v1h-2zM864 492h1v1h-1zM865 491h2v1h-2zM867 490h1v1h-1zM868 489h1v1h-1zM869 488h2v1h-2zM871 487h1v1h-1zM872 486h1v1h-1zM873 485h2v1h-2zM875 484h1v1h-1zM876 483h1v1h-1zM877 482h1v1h-1zM878 481h1v1h-1zM879 480h2v1h-2zM881 479h1v1h-1zM882 478h1v1h-1zM883 477h1v1h-1zM884 476h1v1h-1zM885 475h1v1h-1zM886 474h1v1h-1zM887 473h1v1h-1zM888 472h2v1h-2zM890 471h1v1h-1zM891 470h1v1h-1zM892 469h1v1h-1zM893 468h1v1h-1zM894 467h1v1h-1zM895 466h1v1h-1zM896 465h1v1h-1zM897 464h1v1h-1zM898 463h1v1h-1zM899 461h1v2h-1zM900 460h1v1h-1zM901 459h1v1h-1zM902 458h1v1h-1zM903 457h1v1h-1zM904 456h1v1h-1zM905 455h1v1h-1zM906 454h1v1h-1zM907 453h1v1h-1zM908 452h1v1h-1zM909 451h1v1h-1zM910 450h1v1h-1zM911 449h1v1h-1zM912 447h1v2h-1zM913 446h1v1h-1zM914 445h1v1h-1zM915 444h1v1h-1zM916 443h1v1h-1zM917 442h1v1h-1zM918 441h1v1h-1zM919 440h1v1h-1zM920 439h1v1h-1zM921 438h1v1h-1zM922 437h1v1h-1zM923 436h1v1h-1zM924 435h1v1h-1zM925 433h1v2h-1zM926 432h1v1h-1zM927 431h1v1h-1zM928 430h1v1h-1zM929 429h1v1h-1zM930 428h1v1h-1zM931 427h1v1h-1zM932 426h1v1h-1zM933 424h1v2h-1zM934 423h1v1h-1zM935 422h1v1h-1zM936 421h1v1h-1zM937 420h1v1h-1zM938 419h1v1h-1zM939 417h1v2h-1zM940 416h1v1h-1zM941 415h1v1h-1zM942 414h1v1h-1zM943 412h1v2h-1zM944 411h1v1h-1zM945 410h1v1h-1zM946 409h1v1h-1zM947 407h1v2h-1zM948 406h1v1h-1zM949 405h1v1h-1zM950 403h1v2h-1zM951 402h1v1h-1zM952 401h1v1h-1zM953 399h1v2h-1zM954 398h1v1h-1zM955 397h1v1h-1zM956 396h1v1h-1zM957 394h1v2h-1zM958 393h1v1h-1zM959 392h1v1h-1zM960 390h1v2h-1zM961 389h1v1h-1zM962 388h1v1h-1zM963 386h1v2h-1zM964 385h1v1h-1zM965 384h1v1h-1zM966 383h1v1h-1zM967 381h1v2h-1zM968 380h1v1h-1zM969 379h1v1h-1zM970 377h1v2h-1zM971 376h1v1h-1zM972 375h1v1h-1zM973 373h1v2h-1zM974 372h1v1h-1zM975 371h1v1h-1zM976 369h1v2h-1zM977 368h1v1h-1zM978 367h1v1h-1zM979 365h1v2h-1zM980 364h1v1h-1zM981 363h1v1h-1zM982 361h1v2h-1zM983 360h1v1h-1zM984 358h1v2h-1zM985 357h1v1h-1zM986 355h1v2h-1zM987 354h1v1h-1zM988 353h1v1h-1zM989 351h1v2h-1zM990 350h1v1h-1zM991 348h1v2h-1zM992 347h1v1h-1zM993 346h1v1h-1zM994 344h1v2h-1zM995 343h1v1h-1zM996 341h1v2h-1zM997 340h1v1h-1zM998 338h1v2h-1zM999 337h1v1h-1zM1000 336h1v1h-1zM1001 334h1v2h-1zM1002 333h1v1h-1zM1003 331h1v2h-1zM1004 330h1v1h-1zM1005 329h1v1h-1zM1006 327h1v2h-1zM1007 326h1v1h-1zM1008 325h1v1h-1zM1009 323h1v2h-1zM1010 322h1v1h-1zM1011 320h1v2h-1zM1012 319h1v1h-1zM1013 318h1v1h-1zM1014 316h1v2h-1zM1015 315h1v1h-1zM1016 314h1v1h-1zM1017 312h1v2h-1zM1018 311h1v1h-1zM1019 310h1v1h-1zM1020 308h1v2h-1zM1021 307h1v1h-1zM1022 305h1v2h-1zM1023 304h1v1h-1zM1024 303h1v1h-1zM1025 301h1v2h-1zM1026 300h1v1h-1zM1027 298h1v2h-1zM1028 297h1v1h-1zM1029 295h1v2h-1zM1030 294h1v1h-1zM1031 293h1v1h-1zM1032 291h1v2h-1zM1033 290h1v1h-1zM1034 289h1v1h-1zM1035 287h1v2h-1zM1036 286h1v1h-1zM1037 285h1v1h-1zM1038 283h1v2h-1zM1039 282h1v1h-1zM1040 281h1v1h-1zM1041 280h1v1h-1zM1042 278h1v2h-1zM1043 277h1v1h-1zM1044 276h1v1h-1zM1045 275h1v1h-1zM1046 273h1v2h-1zM1047 272h1v1h-1zM1048 271h1v1h-1z" fill="#ff0000" shape-rendering="crispEdges"/>
<path d="M0 252h14v1h-14zM14 253h4v1h-4zM18 254h4v1h-4zM22 255h4v1h-4zM26 256h3v1h-3zM29 257h3v1h-3zM32 258h4v1h-4zM36 259h3v1h-3zM39 260h4v1h-4zM43 261h3v1h-3zM46 262h4v1h-4zM50 263h3v1h-3zM53 264h3v1h-3zM56 265h2v1h-2zM58 266h3v1h-3zM61 267h3v1h-3zM64 268h3v1h-3zM67 269h3v1h-3zM70 270h4v1h-4zM74 271h3v1h-3zM77 272h3v1h-3zM80 273h4v1h-4zM84 274h3v1h-3zM87 275h3v1h-3zM90 276h3v1h-3zM93 277h4v1h-4zM97 278h3v1h-3zM100 279h3v1h-3zM103 280h4v1h-4zM107 281h3v1h-3zM110 282h3v1h-3zM113 283h3v1h-3zM116 284h2v1h-2zM118 285h2v1h-2zM120 286h2v1h-2zM122 287h2v1h-2zM124 288h2v1h-2zM126 289h2v1h-2zM128 290h1v1h-1zM129 291h2v1h-2zM131 292h2v1h-2zM133 293h1v1h-1zM134 294h2v1h-2zM136 295h1v1h-1zM137 296h2v1h-2zM139 297h1v1h-1zM140 298h2v1h-2zM142 299h1v1h-1zM143 300h2v1h-2zM145 301h1v1h-1zM146 302h2v1h-2zM148 303h1v1h-1zM149 304h2v1h-2zM151 305h1v1h-1zM152 306h1v1h-1zM153 307h2v1h-2zM155 308h1v1h-1zM156 309h1v1h-1zM157 310h1v1h-1zM158 311h1v1h-1zM159 312h1v1h-1zM160 313h2v1h-2zM162 314h1v1h-1zM163 315h1v1h-1zM164 316h1v1h-1zM165 317h1v1h-1zM166 318h1v1h-1zM167 319h1v1h-1zM168 320h1v1h-1zM169 321h2v1h-2zM171 322h1v1h-1zM172 323h1v1h-1zM173 324h1v1h-1zM174 325h1v1h-1zM175 326h1v1h-1zM176 327h1v1h-1zM177 328h1v1h-1zM178 329h1v1h-1zM179 330h1v1h-1zM180 331h1v1h-1zM181 332h1v1h-1zM182 333h1v1h-1zM183 334h1v1h-1zM184 335h1v1h-1zM185 336h1v1h-1zM186 337h1v1h-1zM187 338h1v1h-1zM188 339h1v1h-1zM189 340h1v1h-1zM190 341h1v1h-1zM191 342h1v1h-1zM192 343h1v1h-1zM193 344h1v1h-1zM194 345h1v1h-1zM195 346h1v1h-1zM196 347h1v1h-1zM197 348h1v1h-1zM198 349h1v1h-1zM199 350h2v1h-2zM201 351h1v1h-1zM202 352h1v1h-1zM203 353h1v1h-1zM204 354h1v1h-1zM205 355h1v1h-1zM206 356h2v1h-2zM208 357h1v1h-1zM209 358h1v1h-1zM210 359h1v1h-1zM211 360h2v1h-2zM213 361h1v1h-1zM214 362h2v1h-2zM216 363h1v1h-1zM217 364h2v1h-2zM219 365h1v1h-1zM220 366h2v1h-2zM222 367h1v1h-1zM223 368h2v1h-2zM225 369h2v1h-2zM227 370h2v1h-2zM229 371h2v1h-2zM231 372h2v1h-2zM233 373h4v1h-4zM237 374h5v1h-5zM242 375h7v1h-7zM249 376h6v1h-6zM255 377h17v1h-17zM272 376h6v1h-6zM278 375h5v1h-5zM283 374h4v1h-4zM287 373h4v1h-4zM291 372h3v1h-3zM294 371h3v1h-3zM297 370h3v1h-3zM300 369h3v1h-3zM303 368h3v1h-3zM306 367h3v1h-3zM309 366h4v1h-4zM313 365h3v1h-3zM316 364h4v1h-4zM320 363h3v1h-3zM323 362h4v1h-4zM327 361h7v1h-7zM334 360h9v1h-9zM343 361h11v1h-11zM354 362h4v1h-4zM358 363h3v1h-3zM361 364h2v1h-2zM363 365h3v1h-3zM366 366h2v1h-2zM368 367h2v1h-2zM370 368h3v1h-3zM373 369h2v1h-2zM375 370h2v1h-2zM377 371h2v1h-2zM379 372h3v1h-3zM382 373h2v1h-2zM384 374h2v1h-2zM386 375h2v1h-2zM388 376h1v1h-1zM389 377h1v1h-1zM390 378h2v1h-2zM392 379h1v1h-1zM393 380h1v1h-1zM394 381h2v1h-2zM396 382h1v1h-1zM397 383h1v1h-1zM398 384h1v1h-1zM399 385h1v1h-1zM400 386h1v1h-1zM401 387h1v1h-1zM402 388h2v1h-2zM404 389h1v1h-1zM405 390h1v1h-1zM406 391h1v1h-1zM407 392h1v1h-1zM408 393h1v1h-1zM409 394h1v1h-1zM410 395h1v1h-1zM411 396h1v1h-1zM412 397h1v1h-1zM413 398h1v1h-1zM414 399h1v1h-1zM415 400h1v1h-1zM416 401h1v1h-1zM417 402h1v1h-1zM418 403h1v1h-1zM419 404h1v1h-1zM420 405h1v1h-1zM421 406h1v1h-1zM422 407h1v1h-1zM423 408h1v1h-1zM424 409h1v1h-1zM425 410h1v1h-1zM426 411h1v1h-1zM427 412h1v2h-1zM428 414h1v1h-1zM429 415h1v2h-1zM430 417h1v1h-1zM431 418h1v2h-1zM432 420h1v1h-1zM433 421h1v1h-1zM434 422h1v2h-1zM435 424h1v1h-1zM436 425h1v2h-1zM437 427h1v1h-1zM438 428h1v1h-1zM439 429h1v2h-1zM440 431h1v1h-1zM441 432h1v1h-1zM442 433h1v2h-1zM443 435h1v1h-1zM444 436h1v1h-1zM445 437h1v2h-1zM446 439h1v1h-1zM447 440h1v1h-1zM448 441h1v1h-1zM449 442h1v1h-1zM450 443h1v1h-1zM451 444h1v1h-1zM452 445h1v1h-1zM453 446h1v2h-1zM454 448h1v1h-1zM455 449h1v1h-1zM456 450h1v1h-1zM457 451h1v1h-1zM458 452h1v1h-1zM459 453h1v1h-1zM460 454h1v1h-1zM461 455h1v1h-1zM462 456h1v1h-1zM463 457h1v2h-1zM464 459h1v1h-1zM465 460h1v1h-1zM466 461h1v1h-1zM467 462h1v1h-1zM468 463h1v1h-1zM469 464h1v2h-1zM470 466h1v1h-1zM471 467h1v1h-1zM472 468h1v1h-1zM473 469h1v1h-1zM474 470h1v1h-1zM475 471h1v2h-1zM476 473h1v1h-1zM477 474h1v1h-1zM478 475h1v1h-1zM479 476h1v1h-1zM480 477h1v1h-1zM481 478h1v1h-1zM482 479h1v1h-1zM483 480h1v1h-1zM484 481h1v1h-1zM485 482h2v1h-2zM487 483h1v1h-1zM488 484h1v1h-1zM489 485h1v1h-1zM490 486h1v1h-1zM491 487h1v1h-1zM492 488h1v1h-1zM493 489h1v1h-1zM494 490h1v1h-1zM495 491h1v1h-1zM496 492h1v1h-1zM497 493h1v2h-1zM498 495h1v1h-1zM499 496h1v1h-1zM500 497h1v1h-1zM501 498h1v1h-1zM502 499h1v1h-1zM503 500h1v1h-1zM504 501h1v1h-1zM505 502h2v1h-2zM507 503h1v1h-1zM508 504h2v1h-2zM510 505h1v1h-1zM511 506h2v1h-2zM513 507h2v1h-2zM515 508h1v1h-1zM516 509h2v1h-2zM518 510h2v1h-2zM520 511h3v1h-3zM523 512h2v1h-2zM525 513h2v1h-2zM527 514h3v1h-3zM530 515h2v1h-2zM532 516h3v1h-3zM535 517h3v1h-3zM538 518h3v1h-3zM541 519h4v1h-4zM545 520h3v1h-3zM548 521h5v1h-5zM553 522h5v1h-5zM558 523h5v1h-5zM563 524h26v1h-26zM589 523h11v1h-11zM600 522h6v1h-6zM606 523h17v1h-17zM623 524h11v1h-11zM634 525h6v1h-6zM640 526h7v1h-7zM647 527h8v1h-8zM655 528h8v1h-8zM663 529h5v1h-5zM668 530h4v1h-4zM672 531h5v1h-5zM677 532h5v1h-5zM682 533h5v1h-5zM687 534h5v1h-5zM692 535h5v1h-5zM697 536h6v1h-6zM703 537h8v1h-8zM711 538h12v1h-12zM723 537h6v1h-6zM729 536h5v1h-5zM734 535h4v1h-4zM738 534h3v1h-3zM741 533h4v1h-4zM745 532h2v1h-2zM747 531h3v1h-3zM750 530h2v1h-2zM752 529h2v1h-2zM754 528h2v1h-2zM756 527h2v1h-2zM758 526h2v1h-2zM760 525h1v1h-1zM761 524h2v1h-2zM763 523h2v1h-2zM765 522h1v1h-1zM766 521h2v1h-2zM768 520h1v1h-1zM769 519h1v1h-1zM770 518h2v1h-2zM772 517h1v1h-1zM773 516h1v1h-1zM774 515h2v1h-2zM776 514h1v1h-1zM777 513h1v1h-1zM778 512h1v1h-1zM779 511h1v1h-1zM780 510h1v1h-1zM781 509h1v1h-1zM782 508h2v1h-2zM784 507h1v1h-1zM785 506h1v1h-1zM786 505h1v1h-1zM787 504h1v1h-1zM788 503h1v1h-1zM789 502h1v1h-1zM790 501h1v1h-1zM791 500h1v1h-1zM792 499h1v1h-1zM793 498h1v1h-1zM794 496h1v2h-1zM795 495h1v1h-1zM796 494h1v1h-1zM797 493h1v1h-1zM798 491h1v2h-1zM799 490h1v1h-1zM800 489h1v1h-1zM801 487h1v2h-1zM802 486h1v1h-1zM803 485h1v1h-1zM804 483h1v2h-1zM805 482h1v1h-1zM806 480h1v2h-1zM807 479h1v1h-1zM808 478h1v1h-1zM809 476h1v2h-1zM810 475h1v1h-1zM811 474h1v1h-1zM812 472h1v2h-1zM813 471h1v1h-1zM814 470h1v1h-1zM815 468h1v2h-1zM816 467h1v1h-1zM817 466h1v1h-1zM818 464h1v2h-1zM819 463h1v1h-1zM820 462h1v1h-1zM821 460h1v2h-1zM822 459h1v1h-1zM823 458h1v1h-1zM824 457h1v1h-1zM825 455h1v2h-1zM826 454h1v1h-1zM827 452h1v2h-1zM828 451h1v1h-1zM829 450h1v1h-1zM830 448h1v2h-1zM831 447h1v1h-1zM832 445h1v2h-1zM833 444h1v1h-1zM834 442h1v2h-1zM835 440h1v2h-1zM836 439h1v1h-1zM837 437h1v2h-1zM838 436h1v1h-1zM839 434h1v2h-1zM840 432h1v2h-1zM841 431h1v1h-1zM842 429h1v2h-1zM843 427h1v2h-1zM844 426h1v1h-1zM845 424h1v2h-1zM846 423h1v1h-1zM847 421h1v2h-1zM848 419h1v2h-1zM849 418h1v1h-1zM850 416h1v2h-1zM851 414h1v2h-1zM852 413h1v1h-1zM853 411h1v2h-1zM854 409h1v2h-1zM855 407h1v2h-1zM856 406h1v1h-1zM857 404h1v2h-1zM858 402h1v2h-1zM859 400h1v2h-1zM860 399h1v1h-1zM861 397h1v2h-1zM862 395h1v2h-1zM863 393h1v2h-1zM864 391h1v2h-1zM865 389h1v2h-1zM866 387h1v2h-1zM867 385h1v2h-1zM868 383h1v2h-1zM869 382h1v1h-1zM870 379h1v3h-1zM871 377h1v2h-1zM872 375h1v2h-1zM873 373h1v2h-1zM874 371h1v2h-1zM875 369h1v2h-1zM876 367h1v2h-1zM877 365h1v2h-1zM878 363h1v2h-1zM879 361h1v2h-1zM880 358h1v3h-1zM881 356h1v2h-1zM882 354h1v2h-1zM883 352h1v2h-1zM884 350h1v2h-1zM885 348h1v2h-1zM886 346h1v2h-1zM887 344h1v2h-1zM888 342h1v2h-1zM889 340h1v2h-1zM890 338h1v2h-1zM891 336h1v2h-1zM892 334h1v2h-1zM893 332h1v2h-1zM894 330h1v2h-1zM895 328h1v2h-1zM896 326h1v2h-1zM897 324h1v2h-1zM898 322h1v2h-1zM899 320h1v2h-1zM900 318h1v2h-1zM901 316h1v2h-1zM902 314h1v2h-1zM903 312h1v2h-1zM904 310h1v2h-1zM905 308h1v2h-1zM906 306h1v2h-1zM907 304h1v2h-1zM908 302h1v2h-1zM909 300h1v2h-1zM910 299h1v1h-1zM911 297h1v2h-1zM912 295h1v2h-1zM913 293h1v2h-1zM914 291h1v2h-1zM915 289h1v2h-1zM916 287h1v2h-1zM917 285h1v2h-1zM918 284h1v1h-1zM919 282h1v2h-1zM920 280h1v2h-1zM921 278h1v2h-1zM922 276h1v2h-1zM923 274h1v2h-1zM924 272h1v2h-1zM925 270h1v2h-1zM926 269h1v1h-1zM927 267h1v2h-1zM928 265h1v2h-1zM929 263h1v2h-1zM930 261h1v2h-1zM931 259h1v2h-1zM932 258h1v1h-1zM933 256h1v2h-1zM934 254h1v2h-1zM935 252h1v2h-1zM936 251h1v1h-1zM937 249h1v2h-1zM938 247h1v2h-1zM939 245h1v2h-1zM940 244h1v1h-1zM941 242h1v2h-1zM942 240h1v2h-1zM943 239h1v1h-1zM944 237h1v2h-1zM945 235h1v2h-1zM946 234h1v1h-1zM947 232h1v2h-1zM948 230h1v2h-1zM949 229h1v1h-1zM950 227h1v2h-1zM951 226h1v1h-1zM952 224h1v2h-1zM953 222h1v2h-1zM954 221h1v1h-1zM955 219h1v2h-1zM956 217h1v2h-1zM957 216h1v1h-1zM958 214h1v2h-1zM959 212h1v2h-1zM960 211h1v1h-1zM961 209h1v2h-1zM962 208h1v1h-1zM963 206h1v2h-1zM964 205h1v1h-1zM965 204h1v1h-1zM966 202h1v2h-1zM967 201h1v1h-1zM968 200h1v1h-1zM969 199h1v1h-1zM970 197h1v2h-1zM971 196h1v1h-1zM972 195h1v1h-1zM973 194h1v1h-1zM974 193h1v1h-1zM975 192h1v1h-1zM976 191h1v1h-1zM977 190h1v1h-1zM978 189h1v1h-1zM979 188h1v1h-1zM980 187h1v1h-1zM981 186h1v1h-1zM982 185h1v1h-1zM983 184h1v1h-1zM984 183h1v1h-1zM985 182h1v1h-1zM986 181h2v1h-2zM988 180h1v1h-1zM989 179h2v1h-2zM991 178h1v1h-1zM992 177h2v1h-2zM994 176h2v1h-2zM996 175h1v1h-1zM997 174h2v1h-2zM999 173h2v1h-2zM1001 172h2v1h-2zM1003 171h3v1h-3zM1006 170h2v1h-2zM1008 169h3v1h-3zM1011 168h4v1h-4zM1015 167h4v1h-4zM1019 166h6v1h-6zM1025 165h8v1h-8zM1033 164h16v1h-16z" fill="#2fae6a" shape-rendering="crispEdges"/>
<path d="M0 294h10v1h-10zM10 293h4v1h-4zM14 292h3v1h-3zM17 291h2v1h-2zM19 290h2v1h-2zM21 289h2v1h-2zM23 288h2v1h-2zM25 287h1v1h-1zM26 286h2v1h-2zM28 285h1v1h-1zM29 284h1v1h-1zM30 283h2v1h-2zM32 282h1v1h-1zM33 281h1v1h-1zM34 280h1v1h-1zM35 279h2v1h-2zM37 278h1v1h-1zM38 277h1v1h-1zM39 276h1v1h-1zM40 275h2v1h-2zM42 274h1v1h-1zM43 273h2v1h-2zM45 272h1v1h-1zM46 271h2v1h-2zM48 270h1v1h-1zM49 269h2v1h-2zM51 268h2v1h-2zM53 267h2v1h-2zM55 266h2v1h-2zM57 265h2v1h-2zM59 264h2v1h-2zM61 263h8v1h-8zM69 264h3v1h-3zM72 265h2v1h-2zM74 266h2v1h-2zM76 267h1v1h-1zM77 268h1v1h-1zM78 269h2v1h-2zM80 270h1v1h-1zM81 271h1v1h-1zM82 272h1v1h-1zM83 273h2v1h-2zM85 274h1v1h-1zM86 275h1v1h-1zM87 276h1v1h-1zM88 277h1v1h-1zM89 278h1v1h-1zM90 279h1v1h-1zM91 280h1v2h-1zM92 282h1v1h-1zM93 283h1v2h-1zM94 285h1v2h-1zM95 287h1v2h-1zM96 289h1v2h-1zM97 291h1v2h-1zM98 293h1v2h-1zM99 295h1v3h-1zM100 298h1v2h-1zM101 300h1v2h-1zM102 302h1v2h-1zM103 304h1v2h-1zM104 306h1v2h-1zM105 308h1v2h-1zM106 310h1v2h-1zM107 312h1v3h-1zM108 315h1v3h-1zM109 318h1v3h-1zM110 321h1v2h-1zM111 323h1v3h-1zM112 326h1v3h-1zM113 329h1v3h-1zM114 332h1v2h-1zM115 334h1v2h-1zM116 336h1v3h-1zM117 339h1v2h-1zM118 341h1v2h-1zM119 343h1v3h-1zM120 346h1v3h-1zM121 349h1v2h-1zM122 351h1v3h-1zM123 354h1v2h-1zM124 356h1v3h-1zM125 359h1v2h-1zM126 361h1v2h-1zM127 363h1v3h-1zM128 366h1v2h-1zM129 368h1v2h-1zM130 370h1v2h-1zM131 372h1v2h-1zM132 374h1v2h-1zM133 376h1v2h-1zM134 378h1v2h-1zM135 380h1v1h-1zM136 381h1v2h-1zM137 383h1v2h-1zM138 385h1v1h-1zM139 386h1v2h-1zM140 388h1v1h-1zM141 389h1v1h-1zM142 390h1v1h-1zM143 391h1v1h-1zM144 392h1v1h-1zM145 393h1v1h-1zM146 394h1v1h-1zM147 395h2v1h-2zM149 396h1v1h-1zM150 397h2v1h-2zM152 398h2v1h-2zM154 399h8v1h-8zM162 398h3v1h-3zM165 397h2v1h-2zM167 396h2v1h-2zM169 395h3v1h-3zM172 394h2v1h-2zM174 393h2v1h-2zM176 392h2v1h-2zM178 391h2v1h-2zM180 390h3v1h-3zM183 389h3v1h-3zM186 388h2v1h-2zM188 387h2v1h-2zM190 386h2v1h-2zM192 385h2v1h-2zM194 384h4v1h-4zM198 383h5v1h-5zM203 382h4v1h-4zM207 381h4v1h-4zM211 380h3v1h-3zM214 379h3v1h-3zM217 378h2v1h-2zM219 377h2v1h-2zM221 376h2v1h-2zM223 375h2v1h-2zM225 374h1v1h-1zM226 373h1v1h-1zM227 372h1v1h-1zM228 371h1v1h-1zM229 370h2v1h-2zM231 369h1v1h-1zM232 368h1v1h-1zM233 367h2v1h-2zM235 366h1v1h-1zM236 365h2v1h-2zM238 364h2v1h-2zM240 363h1v1h-1zM241 362h2v1h-2zM243 361h1v1h-1zM244 360h2v1h-2zM246 359h1v1h-1zM247 358h2v1h-2zM249 357h2v1h-2zM251 356h2v1h-2zM253 355h2v1h-2zM255 354h3v1h-3zM258 353h6v1h-6zM264 352h23v1h-23zM287 353h11v1h-11zM298 354h13v1h-13zM311 353h3v1h-3zM314 352h10v1h-10zM324 353h3v1h-3zM327 354h2v1h-2zM329 355h2v1h-2zM331 356h1v1h-1zM332 357h1v1h-1zM333 358h1v1h-1zM334 359h1v1h-1zM335 360h1v1h-1zM336 361h1v1h-1zM337 362h1v2h-1zM338 364h1v1h-1zM339 365h1v1h-1zM340 366h1v2h-1zM341 368h1v1h-1zM342 369h1v2h-1zM343 371h1v1h-1zM344 372h1v2h-1zM345 374h1v1h-1zM346 375h1v2h-1zM347 377h1v2h-1zM348 379h1v1h-1zM349 380h1v2h-1zM350 382h1v2h-1zM351 384h1v2h-1zM352 386h1v2h-1zM353 388h1v1h-1zM354 389h1v2h-1zM355 391h1v2h-1zM356 393h1v2h-1zM357 395h1v3h-1zM358 398h1v2h-1zM359 400h1v2h-1zM360 402h1v2h-1zM361 404h1v3h-1zM362 407h1v2h-1zM363 409h1v3h-1zM364 412h1v2h-1zM365 414h1v3h-1zM366 417h1v2h-1zM367 419h1v3h-1zM368 422h1v3h-1zM369 425h1v2h-1zM370 427h1v2h-1zM371 429h1v3h-1zM372 432h1v2h-1zM373 434h1v2h-1zM374 436h1v2h-1zM375 438h1v3h-1zM376 441h1v2h-1zM377 443h1v2h-1zM378 445h1v2h-1zM379 447h1v2h-1zM380 449h1v2h-1zM381 451h1v1h-1zM382 452h1v2h-1zM383 454h1v2h-1zM384 456h1v1h-1zM385 457h1v2h-1zM386 459h1v1h-1zM387 460h1v2h-1zM388 462h1v1h-1zM389 463h1v2h-1zM390 465h1v1h-1zM391 466h1v1h-1zM392 467h1v1h-1zM393 468h1v2h-1zM394 470h1v1h-1zM395 471h1v1h-1zM396 472h1v1h-1zM397 473h1v1h-1zM398 474h1v1h-1zM399 475h1v1h-1zM400 476h1v1h-1zM401 477h1v1h-1zM402 478h1v1h-1zM403 479h1v1h-1zM404 480h1v1h-1zM405 481h1v1h-1zM406 482h1v1h-1zM407 483h2v1h-2zM409 484h1v1h-1zM410 485h1v1h-1zM411 486h1v1h-1zM412 487h1v1h-1zM413 488h1v1h-1zM414 489h1v1h-1zM415 490h2v1h-2zM417 491h1v1h-1zM418 492h1v1h-1zM419 493h1v1h-1zM420 494h1v1h-1zM421 495h1v1h-1zM422 496h1v1h-1zM423 497h1v1h-1zM424 498h1v1h-1zM425 499h1v1h-1zM426 500h1v1h-1zM427 501h1v1h-1zM428 502h1v1h-1zM429 503h1v1h-1zM430 504h1v1h-1zM431 505h1v1h-1zM432 506h1v1h-1zM433 507h1v1h-1zM434 508h1v1h-1zM435 509h1v1h-1zM436 510h1v1h-1zM437 511h1v2h-1zM438 513h1v1h-1zM439 514h1v1h-1zM440 515h1v1h-1zM441 516h1v1h-1zM442 517h2v1h-2zM444 518h2v1h-2zM446 519h3v1h-3zM449 520h3v1h-3zM452 521h4v1h-4zM456 522h5v1h-5zM461 523h5v1h-5zM466 524h4v1h-4zM470 525h4v1h-4zM474 526h4v1h-4zM478 527h3v1h-3zM481 528h3v1h-3zM484 529h2v1h-2zM486 530h2v1h-2zM488 531h2v1h-2zM490 532h2v1h-2zM492 533h2v1h-2zM494 534h2v1h-2zM496 535h4v1h-4zM500 536h10v1h-10zM510 535h3v1h-3zM513 534h3v1h-3zM516 533h1v1h-1zM517 532h2v1h-2zM519 531h2v1h-2zM521 530h1v1h-1zM522 529h1v1h-1zM523 528h2v1h-2zM525 527h1v1h-1zM526 526h1v1h-1zM527 525h1v1h-1zM528 524h2v1h-2zM530 523h1v1h-1zM531 522h1v1h-1zM532 521h2v1h-2zM534 520h1v1h-1zM535 519h2v1h-2zM537 518h1v1h-1zM538 517h2v1h-2zM540 516h2v1h-2zM542 515h3v1h-3zM545 514h14v1h-14zM559 515h5v1h-5zM564 516h3v1h-3zM567 517h3v1h-3zM570 518h2v1h-2zM572 519h4v1h-4zM576 520h27v1h-27zM603 521h5v1h-5zM608 522h3v1h-3zM611 523h1v1h-1zM612 524h2v1h-2zM614 525h1v1h-1zM615 526h1v1h-1zM616 527h1v1h-1zM617 528h2v1h-2zM619 529h1v1h-1zM620 530h1v1h-1zM621 531h1v1h-1zM622 532h1v1h-1zM623 533h1v1h-1zM624 534h1v1h-1zM625 535h1v1h-1zM626 536h1v1h-1zM627 537h1v1h-1zM628 538h2v1h-2zM630 539h1v1h-1zM631 540h1v1h-1zM632 541h1v1h-1zM633 542h1v1h-1zM634 543h1v1h-1zM635 544h1v1h-1zM636 545h1v1h-1zM637 546h2v1h-2zM639 547h2v1h-2zM641 548h2v1h-2zM643 549h2v1h-2zM645 550h3v1h-3zM648 551h2v1h-2zM650 552h13v1h-13zM663 551h5v1h-5zM668 550h11v1h-11zM679 549h14v1h-14zM693 548h3v1h-3zM696 547h1v1h-1zM697 546h2v1h-2zM699 545h1v1h-1zM700 544h1v1h-1zM701 543h1v1h-1zM702 542h1v1h-1zM703 541h1v1h-1zM704 540h2v1h-2zM706 539h1v1h-1zM707 538h1v1h-1zM708 536h1v2h-1zM709 535h1v1h-1zM710 534h1v1h-1zM711 533h1v1h-1zM712 532h1v1h-1zM713 531h1v1h-1zM714 529h1v2h-1zM715 528h1v1h-1zM716 527h1v1h-1zM717 526h1v1h-1zM718 525h1v1h-1zM719 523h1v2h-1zM720 522h1v1h-1zM721 520h1v2h-1zM722 518h1v2h-1zM723 517h1v1h-1zM724 515h1v2h-1zM725 513h1v2h-1zM726 511h1v2h-1zM727 509h1v2h-1zM728 507h1v2h-1zM729 505h1v2h-1zM730 503h1v2h-1zM731 501h1v2h-1zM732 499h1v2h-1zM733 498h1v1h-1zM734 496h1v2h-1zM735 494h1v2h-1zM736 492h1v2h-1zM737 491h1v1h-1zM738 489h1v2h-1zM739 487h1v2h-1zM740 485h1v2h-1zM741 483h1v2h-1zM742 481h1v2h-1zM743 479h1v2h-1zM744 477h1v2h-1zM745 475h1v2h-1zM746 473h1v2h-1zM747 472h1v1h-1zM748 470h1v2h-1zM749 468h1v2h-1zM750 467h1v1h-1zM751 466h1v1h-1zM752 464h1v2h-1zM753 463h1v1h-1zM754 461h1v2h-1zM755 459h1v2h-1zM756 458h1v1h-1zM757 456h1v2h-1zM758 454h1v2h-1zM759 453h1v1h-1zM760 451h1v2h-1zM761 450h1v1h-1zM762 448h1v2h-1zM763 447h1v1h-1zM764 446h1v1h-1zM765 445h1v1h-1zM766 444h1v1h-1zM767 443h1v1h-1zM768 442h1v1h-1zM769 441h1v1h-1zM770 440h1v1h-1zM771 439h1v1h-1zM772 438h1v1h-1zM773 437h1v1h-1zM774 436h1v1h-1zM775 435h1v1h-1zM776 434h1v1h-1zM777 433h1v1h-1zM778 432h1v1h-1zM779 431h1v1h-1zM780 429h1v2h-1zM781 428h1v1h-1zM782 427h1v1h-1zM783 426h1v1h-1zM784 425h1v1h-1zM785 424h1v1h-1zM786 423h1v1h-1zM787 422h1v1h-1zM788 421h1v1h-1zM789 419h1v2h-1zM790 418h1v1h-1zM791 417h1v1h-1zM792 416h1v1h-1zM793 414h1v2h-1zM794 413h1v1h-1zM795 411h1v2h-1zM796 410h1v1h-1zM797 408h1v2h-1zM798 406h1v2h-1zM799 405h1v1h-1zM800 403h1v2h-1zM801 401h1v2h-1zM802 400h1v1h-1zM803 398h1v2h-1zM804 396h1v2h-1zM805 394h1v2h-1zM806 393h1v1h-1zM807 391h1v2h-1zM808 389h1v2h-1zM809 387h1v2h-1zM810 385h1v2h-1zM811 383h1v2h-1zM812 381h1v2h-1zM813 378h1v3h-1zM814 376h1v2h-1zM815 373h1v3h-1zM816 371h1v2h-1zM817 369h1v2h-1zM818 366h1v3h-1zM819 364h1v2h-1zM820 361h1v3h-1zM821 359h1v2h-1zM822 356h1v3h-1zM823 353h1v3h-1zM824 351h1v2h-1zM825 348h1v3h-1zM826 345h1v3h-1zM827 342h1v3h-1zM828 339h1v3h-1zM829 337h1v2h-1zM830 334h1v3h-1zM831 332h1v2h-1zM832 329h1v3h-1zM833 327h1v2h-1zM834 324h1v3h-1zM835 322h1v2h-1zM836 320h1v2h-1zM837 318h1v2h-1zM838 315h1v3h-1zM839 313h1v2h-1zM840 311h1v2h-1zM841 308h1v3h-1zM842 306h1v2h-1zM843 304h1v2h-1zM844 301h1v3h-1zM845 299h1v2h-1zM846 297h1v2h-1zM847 294h1v3h-1zM848 292h1v2h-1zM849 290h1v2h-1zM850 287h1v3h-1zM851 285h1v2h-1zM852 283h1v2h-1zM853 281h1v2h-1zM854 278h1v3h-1zM855 276h1v2h-1zM856 274h1v2h-1zM857 272h1v2h-1zM858 269h1v3h-1zM859 267h1v2h-1zM860 265h1v2h-1zM861 262h1v3h-1zM862 260h1v2h-1zM863 257h1v3h-1zM864 255h1v2h-1zM865 253h1v2h-1zM866 250h1v3h-1zM867 247h1v3h-1zM868 245h1v2h-1zM869 243h1v2h-1zM870 240h1v3h-1zM871 238h1v2h-1zM872 235h1v3h-1zM873 233h1v2h-1zM874 231h1v2h-1zM875 228h1v3h-1zM876 226h1v2h-1zM877 223h1v3h-1zM878 221h1v2h-1zM879 219h1v2h-1zM880 216h1v3h-1zM881 214h1v2h-1zM882 211h1v3h-1zM883 209h1v2h-1zM884 206h1v3h-1zM885 204h1v2h-1zM886 201h1v3h-1zM887 199h1v2h-1zM888 196h1v3h-1zM889 194h1v2h-1zM890 191h1v3h-1zM891 188h1v3h-1zM892 185h1v3h-1zM893 183h1v2h-1zM894 180h1v3h-1zM895 177h1v3h-1zM896 174h1v3h-1zM897 172h1v2h-1zM898 169h1v3h-1zM899 167h1v2h-1zM900 164h1v3h-1zM901 162h1v2h-1zM902 160h1v2h-1zM903 158h1v2h-1zM904 156h1v2h-1zM905 154h1v2h-1zM906 153h1v1h-1zM907 151h1v2h-1zM908 150h1v1h-1zM909 148h1v2h-1zM910 147h1v1h-1zM911 146h1v1h-1zM912 145h1v1h-1zM913 144h1v1h-1zM914 143h2v1h-2zM916 142h2v1h-2zM918 141h2v1h-2zM920 140h2v1h-2zM922 139h9v1h-9zM931 140h2v1h-2zM933 141h2v1h-2zM935 142h2v1h-2zM937 143h1v1h-1zM938 144h1v1h-1zM939 145h2v1h-2zM941 146h1v1h-1zM942 147h1v1h-1zM943 148h1v1h-1zM944 149h1v1h-1zM945 150h1v1h-1zM946 151h1v1h-1zM947 152h1v1h-1zM948 153h1v1h-1zM949 154h1v2h-1zM950 156h1v1h-1zM951 157h1v1h-1zM952 158h1v1h-1zM953 159h1v1h-1zM954 160h1v2h-1zM955 162h1v1h-1zM956 163h1v1h-1zM957 164h1v1h-1zM958 165h1v2h-1zM959 167h1v1h-1zM960 168h1v1h-1zM961 169h1v1h-1zM962 170h1v1h-1zM963 171h1v2h-1zM964 173h1v1h-1zM965 174h1v1h-1zM966 175h1v1h-1zM967 176h1v1h-1zM968 177h1v1h-1zM969 178h1v1h-1zM970 179h1v1h-1zM971 180h1v1h-1zM972 181h2v1h-2zM974 182h2v1h-2zM976 183h2v1h-2zM978 184h3v1h-3zM981 185h7v1h-7zM988 184h3v1h-3zM991 183h2v1h-2zM993 182h2v1h-2zM995 181h1v1h-1zM996 180h2v1h-2zM998 179h1v1h-1zM999 178h1v1h-1zM1000 177h2v1h-2zM1002 176h1v1h-1zM1003 175h1v1h-1zM1004 174h1v1h-1zM1005 173h1v1h-1zM1006 172h1v1h-1zM1007 171h1v1h-1zM1008 170h1v1h-1zM1009 169h1v1h-1zM1010 168h1v1h-1zM1011 167h1v1h-1zM1012 166h1v1h-1zM1013 165h1v1h-1zM1014 164h1v1h-1zM1015 163h1v1h-1zM1016 162h1v1h-1zM1017 160h1v2h-1zM1018 159h1v1h-1zM1019 158h1v1h-1zM1020 157h1v1h-1zM1021 156h1v1h-1zM1022 155h1v1h-1zM1023 154h1v1h-1zM1024 153h1v1h-1zM1025 152h1v1h-1zM1026 151h2v1h-2zM1028 150h2v1h-2zM1030 149h2v1h-2zM1032 148h2v1h-2zM1034 147h2v1h-2zM1036 146h12v1h-12zM1048 147h1v1h-1z" fill="#0000ff" shape-rendering="crispEdges"/>
<g>
<path d="M52,258.0 h3 V264.4 h2 L53.5,269.0 L50,264.4 h2 Z" fill="#ff0000"/>
<path d="M126.5,426.0 L130,430.6 h-2 V437.6 h-3 V430.6 h-2 Z" fill="url(#gd)"/>
<path d="M158,329.0 h3 V336.4 h2 L159.5,341.0 L156,336.4 h2 Z" fill="#ff0000"/>
<path d="M185.5,394.6 L189,399.2 h-2 V405.7 h-3 V399.2 h-2 Z" fill="url(#gd)"/>
<path d="M211,337.0 h3 V344.0 h2 L212.5,348.6 L209,344.0 h2 Z" fill="#ff0000"/>
<path d="M225.5,381.6 L229,386.2 h-2 V393.0 h-3 V386.2 h-2 Z" fill="url(#gd)"/>
<path d="M257,329.0 h3 V336.4 h2 L258.5,341.0 L255,336.4 h2 Z" fill="#ff0000"/>
<path d="M277.5,372.5 L281,377.1 h-2 V383.0 h-3 V377.1 h-2 Z" fill="url(#gd)"/>
<path d="M309,329.0 h3 V336.4 h2 L310.5,341.0 L307,336.4 h2 Z" fill="#ff0000"/>
<path d="M423.5,541.4 L427,546.0 h-2 V552.9 h-3 V546.0 h-2 Z" fill="url(#gd)"/>
<path d="M435,510.0 h3 V517.4 h2 L436.5,522.0 L433,517.4 h2 Z" fill="#ff0000"/>
<path d="M443.5,532.4 L447,537.0 h-2 V544.0 h-3 V537.0 h-2 Z" fill="url(#gd)"/>
<path d="M455,521.0 h3 V528.4 h2 L456.5,533.0 L453,528.4 h2 Z" fill="#ff0000"/>
<path d="M489.5,554.0 L493,558.6 h-2 V565.0 h-3 V558.6 h-2 Z" fill="url(#gd)"/>
<path d="M528,515.0 h3 V521.9 h2 L529.5,526.5 L526,521.9 h2 Z" fill="#ff0000"/>
<path d="M548.5,544.0 L552,548.6 h-2 V555.0 h-3 V548.6 h-2 Z" fill="url(#gd)"/>
<path d="M573,473.0 h3 V480.1 h2 L574.5,484.7 L571,480.1 h2 Z" fill="#ff0000"/>
<path d="M627.5,567.3 L631,571.9 h-2 V578.7 h-3 V571.9 h-2 Z" fill="url(#gd)"/>
<path d="M652,515.2 h3 V522.2 h2 L653.5,526.8 L650,522.2 h2 Z" fill="#ff0000"/>
<path d="M679.5,564.0 L683,568.6 h-2 V576.0 h-3 V568.6 h-2 Z" fill="url(#gd)"/>
<path d="M903,136.0 h3 V143.4 h2 L904.5,148.0 L901,143.4 h2 Z" fill="#ff0000"/>
<path d="M911.5,156.6 L915,161.2 h-2 V167.7 h-3 V161.2 h-2 Z" fill="url(#gd)"/>
<path d="M916,133.4 h3 V140.4 h2 L917.5,145.0 L914,140.4 h2 Z" fill="#ff0000"/>
<path d="M970.5,188.0 L974,192.6 h-2 V199.0 h-3 V192.6 h-2 Z" fill="url(#gd)"/>
<path d="M1022,120.2 h3 V127.2 h2 L1023.5,131.8 L1020,127.2 h2 Z" fill="#ff0000"/>
</g>
<g stroke="#0000ff" stroke-width="3.2" stroke-linecap="butt" shape-rendering="crispEdges">
<line x1="875.5" y1="115" x2="1098" y2="147.7"/>
<line x1="875" y1="208.6" x2="1088" y2="229.7"/>
</g>
<rect x="872" y="114" width="4" height="2" fill="#ff8040"/><rect x="872" y="207.5" width="3" height="2" fill="#ff8040"/>
<g fill="#000" shape-rendering="crispEdges">
<rect x="1125" y="18" width="1" height="632"/>
<rect x="1126" y="23" width="7" height="1"/>
<rect x="1126" y="26" width="3" height="1"/>
<rect x="1126" y="29" width="3" height="1"/>
<rect x="1126" y="33" width="3" height="1"/>
<rect x="1126" y="36" width="3" height="1"/>
<rect x="1126" y="39" width="7" height="1"/>
<rect x="1126" y="42" width="3" height="1"/>
<rect x="1126" y="45" width="3" height="1"/>
<rect x="1126" y="49" width="3" height="1"/>
<rect x="1126" y="52" width="3" height="1"/>
<rect x="1126" y="55" width="7" height="1"/>
<rect x="1126" y="58" width="3" height="1"/>
<rect x="1126" y="61" width="3" height="1"/>
<rect x="1126" y="65" width="3" height="1"/>
<rect x="1126" y="68" width="3" height="1"/>
<rect x="1126" y="71" width="7" height="1"/>
<rect x="1126" y="74" width="3" height="1"/>
<rect x="1126" y="77" width="3" height="1"/>
<rect x="1126" y="81" width="3" height="1"/>
<rect x="1126" y="84" width="3" height="1"/>
<rect x="1126" y="87" width="7" height="1"/>
<rect x="1126" y="90" width="3" height="1"/>
<rect x="1126" y="93" width="3" height="1"/>
<rect x="1126" y="97" width="3" height="1"/>
<rect x="1126" y="100" width="3" height="1"/>
<rect x="1126" y="103" width="7" height="1"/>
<rect x="1126" y="106" width="3" height="1"/>
<rect x="1126" y="109" width="3" height="1"/>
<rect x="1126" y="113" width="3" height="1"/>
<rect x="1126" y="116" width="3" height="1"/>
<rect x="1126" y="119" width="7" height="1"/>
<rect x="1126" y="122" width="3" height="1"/>
<rect x="1126" y="126" width="3" height="1"/>
<rect x="1126" y="129" width="3" height="1"/>
<rect x="1126" y="132" width="3" height="1"/>
<rect x="1126" y="135" width="7" height="1"/>
<rect x="1126" y="138" width="3" height="1"/>
<rect x="1126" y="142" width="3" height="1"/>
<rect x="1126" y="145" width="3" height="1"/>
<rect x="1126" y="148" width="3" height="1"/>
<rect x="1126" y="151" width="7" height="1"/>
<rect x="1126" y="154" width="3" height="1"/>
<rect x="1126" y="158" width="3" height="1"/>
<rect x="1126" y="161" width="3" height="1"/>
<rect x="1126" y="164" width="3" height="1"/>
<rect x="1126" y="167" width="7" height="1"/>
<rect x="1126" y="170" width="3" height="1"/>
<rect x="1126" y="174" width="3" height="1"/>
<rect x="1126" y="177" width="3" height="1"/>
<rect x="1126" y="180" width="3" height="1"/>
<rect x="1126" y="183" width="7" height="1"/>
<rect x="1126" y="186" width="3" height="1"/>
<rect x="1126" y="190" width="3" height="1"/>
<rect x="1126" y="193" width="3" height="1"/>
<rect x="1126" y="196" width="3" height="1"/>
<rect x="1126" y="199" width="7" height="1"/>
<rect x="1126" y="202" width="3" height="1"/>
<rect x="1126" y="206" width="3" height="1"/>
<rect x="1126" y="209" width="3" height="1"/>
<rect x="1126" y="212" width="3" height="1"/>
<rect x="1126" y="215" width="7" height="1"/>
<rect x="1126" y="218" width="3" height="1"/>
<rect x="1126" y="222" width="3" height="1"/>
<rect x="1126" y="225" width="3" height="1"/>
<rect x="1126" y="228" width="3" height="1"/>
<rect x="1126" y="231" width="7" height="1"/>
<rect x="1126" y="234" width="3" height="1"/>
<rect x="1126" y="238" width="3" height="1"/>
<rect x="1126" y="241" width="3" height="1"/>
<rect x="1126" y="244" width="3" height="1"/>
<rect x="1126" y="247" width="7" height="1"/>
<rect x="1126" y="250" width="3" height="1"/>
<rect x="1126" y="254" width="3" height="1"/>
<rect x="1126" y="257" width="3" height="1"/>
<rect x="1126" y="260" width="3" height="1"/>
<rect x="1126" y="263" width="7" height="1"/>
<rect x="1126" y="267" width="3" height="1"/>
<rect x="1126" y="270" width="3" height="1"/>
<rect x="1126" y="273" width="3" height="1"/>
<rect x="1126" y="276" width="3" height="1"/>
<rect x="1126" y="279" width="7" height="1"/>
<rect x="1126" y="283" width="3" height="1"/>
<rect x="1126" y="286" width="3" height="1"/>
<rect x="1126" y="289" width="3" height="1"/>
<rect x="1126" y="292" width="3" height="1"/>
<rect x="1126" y="295" width="7" height="1"/>
<rect x="1126" y="299" width="3" height="1"/>
<rect x="1126" y="302" width="3" height="1"/>
<rect x="1126" y="305" width="3" height="1"/>
<rect x="1126" y="308" width="3" height="1"/>
<rect x="1126" y="311" width="7" height="1"/>
<rect x="1126" y="315" width="3" height="1"/>
<rect x="1126" y="318" width="3" height="1"/>
<rect x="1126" y="321" width="3" height="1"/>
<rect x="1126" y="324" width="3" height="1"/>
<rect x="1126" y="327" width="7" height="1"/>
<rect x="1126" y="331" width="3" height="1"/>
<rect x="1126" y="334" width="3" height="1"/>
<rect x="1126" y="337" width="3" height="1"/>
<rect x="1126" y="340" width="3" height="1"/>
<rect x="1126" y="343" width="7" height="1"/>
<rect x="1126" y="347" width="3" height="1"/>
<rect x="1126" y="350" width="3" height="1"/>
<rect x="1126" y="353" width="3" height="1"/>
<rect x="1126" y="356" width="3" height="1"/>
<rect x="1126" y="359" width="7" height="1"/>
<rect x="1126" y="363" width="3" height="1"/>
<rect x="1126" y="366" width="3" height="1"/>
<rect x="1126" y="369" width="3" height="1"/>
<rect x="1126" y="372" width="3" height="1"/>
<rect x="1126" y="375" width="7" height="1"/>
<rect x="1126" y="379" width="3" height="1"/>
<rect x="1126" y="382" width="3" height="1"/>
<rect x="1126" y="385" width="3" height="1"/>
<rect x="1126" y="388" width="3" height="1"/>
<rect x="1126" y="391" width="7" height="1"/>
<rect x="1126" y="395" width="3" height="1"/>
<rect x="1126" y="398" width="3" height="1"/>
<rect x="1126" y="401" width="3" height="1"/>
<rect x="1126" y="404" width="3" height="1"/>
<rect x="1126" y="407" width="7" height="1"/>
<rect x="1126" y="411" width="3" height="1"/>
<rect x="1126" y="414" width="3" height="1"/>
<rect x="1126" y="417" width="3" height="1"/>
<rect x="1126" y="420" width="3" height="1"/>
<rect x="1126" y="424" width="7" height="1"/>
<rect x="1126" y="427" width="3" height="1"/>
<rect x="1126" y="430" width="3" height="1"/>
<rect x="1126" y="433" width="3" height="1"/>
<rect x="1126" y="436" width="3" height="1"/>
<rect x="1126" y="440" width="7" height="1"/>
<rect x="1126" y="443" width="3" height="1"/>
<rect x="1126" y="446" width="3" height="1"/>
<rect x="1126" y="449" width="3" height="1"/>
<rect x="1126" y="452" width="3" height="1"/>
<rect x="1126" y="456" width="7" height="1"/>
<rect x="1126" y="459" width="3" height="1"/>
<rect x="1126" y="462" width="3" height="1"/>
<rect x="1126" y="465" width="3" height="1"/>
<rect x="1126" y="468" width="3" height="1"/>
<rect x="1126" y="472" width="7" height="1"/>
<rect x="1126" y="475" width="3" height="1"/>
<rect x="1126" y="478" width="3" height="1"/>
<rect x="1126" y="481" width="3" height="1"/>
<rect x="1126" y="484" width="3" height="1"/>
<rect x="1126" y="488" width="7" height="1"/>
<rect x="1126" y="491" width="3" height="1"/>
<rect x="1126" y="494" width="3" height="1"/>
<rect x="1126" y="497" width="3" height="1"/>
<rect x="1126" y="500" width="3" height="1"/>
<rect x="1126" y="504" width="7" height="1"/>
<rect x="1126" y="507" width="3" height="1"/>
<rect x="1126" y="510" width="3" height="1"/>
<rect x="1126" y="513" width="3" height="1"/>
<rect x="1126" y="516" width="3" height="1"/>
<rect x="1126" y="520" width="7" height="1"/>
<rect x="1126" y="523" width="3" height="1"/>
<rect x="1126" y="526" width="3" height="1"/>
<rect x="1126" y="529" width="3" height="1"/>
<rect x="1126" y="532" width="3" height="1"/>
<rect x="1126" y="536" width="7" height="1"/>
<rect x="1126" y="539" width="3" height="1"/>
<rect x="1126" y="542" width="3" height="1"/>
<rect x="1126" y="545" width="3" height="1"/>
<rect x="1126" y="548" width="3" height="1"/>
<rect x="1126" y="552" width="7" height="1"/>
<rect x="1126" y="555" width="3" height="1"/>
<rect x="1126" y="558" width="3" height="1"/>
<rect x="1126" y="561" width="3" height="1"/>
<rect x="1126" y="565" width="3" height="1"/>
<rect x="1126" y="568" width="7" height="1"/>
<rect x="1126" y="571" width="3" height="1"/>
<rect x="1126" y="574" width="3" height="1"/>
<rect x="1126" y="577" width="3" height="1"/>
<rect x="1126" y="581" width="3" height="1"/>
<rect x="1126" y="584" width="7" height="1"/>
<rect x="1126" y="587" width="3" height="1"/>
<rect x="1126" y="590" width="3" height="1"/>
<rect x="1126" y="593" width="3" height="1"/>
<rect x="1126" y="597" width="3" height="1"/>
<rect x="1126" y="600" width="7" height="1"/>
<rect x="1126" y="603" width="3" height="1"/>
<rect x="1126" y="606" width="3" height="1"/>
<rect x="1126" y="609" width="3" height="1"/>
<rect x="1126" y="613" width="3" height="1"/>
<rect x="1126" y="616" width="7" height="1"/>
<rect x="1126" y="619" width="3" height="1"/>
<rect x="1126" y="622" width="3" height="1"/>
<rect x="1126" y="625" width="3" height="1"/>
<rect x="1126" y="629" width="3" height="1"/>
<rect x="1126" y="632" width="7" height="1"/>
<rect x="1126" y="635" width="3" height="1"/>
<rect x="1126" y="638" width="3" height="1"/>
<rect x="1126" y="641" width="3" height="1"/>
<rect x="1126" y="645" width="3" height="1"/>
<rect x="1126" y="648" width="7" height="1"/>
</g>
<g font-size="11px" fill="#000" text-anchor="end" stroke="#000" stroke-width="0.25">
<text x="1168.3" y="44.1">455</text>
<text x="1168.3" y="60.1">450</text>
<text x="1168.3" y="76.1">445</text>
<text x="1168.3" y="92.2">440</text>
<text x="1168.3" y="108.2">435</text>
<text x="1168.3" y="124.2">430</text>
<text x="1168.3" y="140.2">425</text>
<text x="1168.3" y="156.3">420</text>
<text x="1168.3" y="172.3">415</text>
<text x="1168.3" y="188.3">410</text>
<text x="1168.3" y="204.3">405</text>
<text x="1168.3" y="220.3">400</text>
<text x="1168.3" y="236.4">395</text>
<text x="1168.3" y="252.4">390</text>
<text x="1168.3" y="268.4">385</text>
<text x="1168.3" y="284.4">380</text>
<text x="1168.3" y="300.4">375</text>
<text x="1168.3" y="316.5">370</text>
<text x="1168.3" y="332.5">365</text>
<text x="1168.3" y="348.5">360</text>
<text x="1168.3" y="364.5">355</text>
<text x="1168.3" y="380.6">350</text>
<text x="1168.3" y="396.6">345</text>
<text x="1168.3" y="412.6">340</text>
<text x="1168.3" y="428.6">335</text>
<text x="1168.3" y="444.6">330</text>
<text x="1168.3" y="460.7">325</text>
<text x="1168.3" y="476.7">320</text>
<text x="1168.3" y="492.7">315</text>
<text x="1168.3" y="508.7">310</text>
<text x="1168.3" y="524.7">305</text>
<text x="1168.3" y="540.8">300</text>
<text x="1168.3" y="556.8">295</text>
<text x="1168.3" y="572.8">290</text>
<text x="1168.3" y="588.8">285</text>
<text x="1168.3" y="604.9">280</text>
<text x="1168.3" y="620.9">275</text>
<text x="1168.3" y="636.9">270</text>
</g>
<rect x="1130" y="190" width="38" height="16" fill="#000"/>
<text x="1130.6" y="202.3" font-size="11px" fill="#ff0000" textLength="36.4" lengthAdjust="spacingAndGlyphs">404.970</text>
<rect x="0" y="650" width="1172" height="2" fill="url(#cr)"/>
<rect x="0" y="652.4" width="1172" height="1.6" fill="#000"/>
<g fill="#000" shape-rendering="crispEdges"><rect x="1125" y="653" width="1" height="24"/><rect x="1126" y="661" width="7" height="1"/></g>
<text x="1136.6" y="666.6" font-size="11px" textLength="31.6" lengthAdjust="spacingAndGlyphs">10000</text>
<rect x="1127.5" y="664.5" width="26" height="12.5" fill="#fff" stroke="#000" stroke-width="1"/>
<text x="1129" y="673.2" font-size="9px" textLength="22.3" lengthAdjust="spacingAndGlyphs">x1000</text>
<g fill="#000" shape-rendering="crispEdges">
<rect x="0" y="676" width="1126" height="1.4"/>
<rect x="0" y="692" width="1126" height="1.2"/>
<rect x="13" y="677" width="1.2" height="15"/>
<rect x="40" y="677" width="1.2" height="15"/>
<rect x="73" y="677" width="1.2" height="15"/>
<rect x="106" y="677" width="1.2" height="15"/>
<rect x="132" y="677" width="1.2" height="15"/>
<rect x="165" y="677" width="1.2" height="15"/>
<rect x="198" y="677" width="1.2" height="15"/>
<rect x="231" y="677" width="1.2" height="15"/>
<rect x="264" y="677" width="1.2" height="15"/>
<rect x="297" y="677" width="1.2" height="15"/>
<rect x="324" y="677" width="1.2" height="15"/>
<rect x="357" y="677" width="1.2" height="15"/>
<rect x="383" y="677" width="1.2" height="15"/>
<rect x="416" y="677" width="1.2" height="15"/>
<rect x="449" y="677" width="1.2" height="15"/>
<rect x="476" y="677" width="1.2" height="15"/>
<rect x="502" y="677" width="1.2" height="15"/>
<rect x="535" y="677" width="1.2" height="15"/>
<rect x="567" y="677" width="1.2" height="15"/>
<rect x="600" y="677" width="1.2" height="15"/>
<rect x="633" y="677" width="1.2" height="15"/>
<rect x="713" y="677" width="1.2" height="15"/>
<rect x="746" y="677" width="1.2" height="15"/>
<rect x="772" y="677" width="1.2" height="15"/>
<rect x="805" y="677" width="1.2" height="15"/>
<rect x="825" y="677" width="1.2" height="15"/>
<rect x="858" y="677" width="1.2" height="15"/>
<rect x="891" y="677" width="1.2" height="15"/>
<rect x="924" y="677" width="1.2" height="15"/>
<rect x="957" y="677" width="1.2" height="15"/>
<rect x="990" y="677" width="1.2" height="15"/>
<rect x="1023" y="677" width="1.2" height="15"/>
<rect x="1056" y="677" width="1.2" height="15"/>
<rect x="1089" y="677" width="1.2" height="15"/>
<rect x="1121" y="677" width="1.2" height="15"/>
<rect x="20" y="692" width="1.2" height="16"/>
<rect x="159" y="692" width="1.2" height="16"/>
<rect x="297" y="692" width="1.2" height="16"/>
<rect x="429" y="692" width="1.2" height="16"/>
<rect x="567" y="692" width="1.2" height="16"/>
<rect x="825" y="692" width="1.2" height="16"/>
<rect x="957" y="692" width="1.2" height="16"/>
<rect x="1096" y="692" width="1.2" height="16"/>
</g>
<g font-size="11px" fill="#000" stroke="#000" stroke-width="0.25">
<text x="15.5" y="688.2">30</text>
<text x="42.5" y="688.2">7</text>
<text x="75.5" y="688.2">14</text>
<text x="108.5" y="688.2">22</text>
<text x="134.5" y="688.2">28</text>
<text x="167.5" y="688.2">4</text>
<text x="200.5" y="688.2">11</text>
<text x="233.5" y="688.2">18</text>
<text x="266.5" y="688.2">25</text>
<text x="299.5" y="688.2">3</text>
<text x="326.5" y="688.2">9</text>
<text x="359.5" y="688.2">17</text>
<text x="385.5" y="688.2">23</text>
<text x="418.5" y="688.2">30</text>
<text x="451.5" y="688.2">6</text>
<text x="478.5" y="688.2">13</text>
<text x="504.5" y="688.2">20</text>
<text x="537.5" y="688.2">27</text>
<text x="569.5" y="688.2">3</text>
<text x="602.5" y="688.2">10</text>
<text x="635.5" y="688.2">20</text>
<text x="682.5" y="688.2">1</text>
<text x="715.5" y="688.2">8</text>
<text x="748.5" y="688.2">16</text>
<text x="774.5" y="688.2">22</text>
<text x="807.5" y="688.2">29</text>
<text x="827.5" y="688.2">5</text>
<text x="860.5" y="688.2">12</text>
<text x="893.5" y="688.2">19</text>
<text x="926.5" y="688.2">26</text>
<text x="959.5" y="688.2">3</text>
<text x="992.5" y="688.2">10</text>
<text x="1025.5" y="688.2">17</text>
<text x="1058.5" y="688.2">24</text>
<text x="1091.5" y="688.2">31</text>
<text x="22.2" y="704" textLength="20" lengthAdjust="spacingAndGlyphs">May</text>
<text x="161.2" y="704" textLength="25.2" lengthAdjust="spacingAndGlyphs">June</text>
<text x="299.2" y="704" textLength="20.3" lengthAdjust="spacingAndGlyphs">July</text>
<text x="431.2" y="704" textLength="36.2" lengthAdjust="spacingAndGlyphs">August</text>
<text x="569.2" y="704" textLength="57.3" lengthAdjust="spacingAndGlyphs">September</text>
<text x="682.2" y="704" textLength="41" lengthAdjust="spacingAndGlyphs">October</text>
<text x="827.2" y="704" textLength="53.2" lengthAdjust="spacingAndGlyphs">November</text>
<text x="959.2" y="704" textLength="54.5" lengthAdjust="spacingAndGlyphs">December</text>
<text x="1098.2" y="704" textLength="24.8" lengthAdjust="spacingAndGlyphs">2013</text>
</g>
<rect x="0" y="708" width="1172" height="1" fill="url(#cr)"/>
<rect x="1126" y="677" width="46" height="32" fill="url(#sb)"/>
<rect x="0" y="0" width="1172" height="17" fill="url(#tb)"/>
<rect x="0" y="0" width="1172" height="1" fill="url(#cr)"/>
<rect x="0" y="16" width="1172" height="2" fill="url(#cr)"/>
<rect x="0" y="18" width="1172" height="1" fill="#000" shape-rendering="crispEdges"/>
<rect x="0" y="4" width="13" height="11" fill="#000" shape-rendering="crispEdges"/><rect x="0" y="5" width="12" height="9" fill="#fff" shape-rendering="crispEdges"/>
<text x="14.5" y="12.2" font-size="11px" font-weight="bold" fill="#fff" stroke="#fff" stroke-width="0.3" textLength="30.5" lengthAdjust="spacingAndGlyphs">HITES</text>
<text x="49" y="12.2" font-size="11.5px" font-weight="bold" fill="#ff0000" stroke="#ff0000" stroke-width="0.35" textLength="248" lengthAdjust="spacingAndGlyphs">(407.000, 408.000, 397.000, 404.970, -5.01999)</text>
<rect x="1140" y="2" width="14" height="12.5" fill="#f4f1dc"/>
<rect x="1153" y="2" width="1" height="12.5" fill="#8c8870"/><rect x="1140" y="14" width="14" height="1" fill="#8c8870"/>
<rect x="1156" y="2" width="14" height="12.5" fill="#f4f1dc"/>
<rect x="1169" y="2" width="1" height="12.5" fill="#8c8870"/><rect x="1156" y="14" width="14" height="1" fill="#8c8870"/>
<path d="M1144.5,5.5 h6.5 M1144.5,5 v6.5 h6.5" fill="none" stroke="#000" stroke-width="1.6"/>
<path d="M1159.5,5 l7,6.5 M1166.5,5 l-7,6.5" fill="none" stroke="#000" stroke-width="1.6"/>
</svg>
</body></html>
